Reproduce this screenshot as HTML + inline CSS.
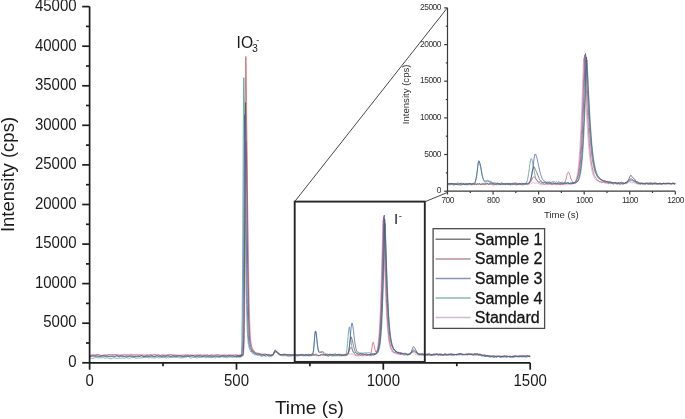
<!DOCTYPE html>
<html><head><meta charset="utf-8"><title>Chromatogram</title>
<style>
html,body{margin:0;padding:0;background:#fff;}
body{width:685px;height:419px;overflow:hidden;}
svg{display:block;}
text{font-family:"Liberation Sans",Arial,sans-serif;}
.ax{stroke:#1c1c1c;stroke-width:1.7;fill:none;}
.iax{stroke:#3a3a3a;stroke-width:1.2;fill:none;}
.ml{font-size:15px;fill:#1a1a1a;}
.il{font-size:8.4px;fill:#303030;letter-spacing:-0.5px;}
.lg{font-size:16px;fill:#141414;stroke:#141414;stroke-width:0.3px;}
.d{fill:none;stroke-width:0.9;stroke-linejoin:round;opacity:0.8;}
</style></head>
<body>
<svg width="685" height="419" viewBox="0 0 685 419">
<g>
<polyline class="d" stroke="#cc98d0" points="89.6,354.6 90.3,354.8 91.1,354.9 91.8,354.7 92.5,354.4 93.3,354.3 94.0,354.5 94.7,354.6 95.5,354.5 96.2,354.3 96.9,354.6 97.7,354.6 98.4,354.5 99.1,354.6 99.9,354.7 100.6,355.1 101.3,355.1 102.1,355.4 102.8,355.1 103.6,355.1 104.3,354.7 105.0,354.7 105.8,354.5 106.5,355.0 107.2,355.1 108.0,355.1 108.7,354.6 109.4,354.8 110.2,354.8 110.9,355.0 111.6,354.9 112.4,354.6 113.1,354.6 113.8,354.5 114.6,354.5 115.3,354.5 116.0,354.5 116.8,354.6 117.5,354.5 118.2,354.7 119.0,354.7 119.7,354.5 120.4,354.6 121.2,354.4 121.9,354.6 122.6,354.5 123.4,354.3 124.1,354.2 124.8,354.3 125.6,354.6 126.3,354.6 127.1,354.5 127.8,354.4 128.5,354.5 129.3,354.3 130.0,354.2 130.7,354.3 131.5,354.4 132.2,354.7 132.9,354.6 133.7,354.8 134.4,354.8 135.1,354.9 135.9,354.5 136.6,354.2 137.3,354.4 138.1,354.7 138.8,354.8 139.5,354.9 140.3,354.9 141.0,355.0 141.7,354.5 142.5,354.3 143.2,354.3 143.9,354.6 144.7,354.7 145.4,354.4 146.1,354.4 146.9,354.4 147.6,354.6 148.3,354.6 149.1,354.6 149.8,354.8 150.5,354.8 151.3,354.9 152.0,354.5 152.8,354.4 153.5,354.3 154.2,354.4 155.0,354.5 155.7,354.4 156.4,354.5 157.2,354.3 157.9,354.7 158.6,354.7 159.4,355.1 160.1,355.2 160.8,355.3 161.6,355.2 162.3,354.8 163.0,354.3 163.8,354.3 164.5,354.5 165.2,354.8 166.0,354.6 166.7,354.5 167.4,354.6 168.2,354.6 168.9,354.4 169.6,354.6 170.4,354.7 171.1,354.8 171.8,354.8 172.6,354.8 173.3,354.9 174.0,354.6 174.8,354.6 175.5,354.4 176.3,354.7 177.0,354.7 177.7,355.1 178.5,355.2 179.2,355.1 179.9,355.1 180.7,354.8 181.4,355.2 182.1,354.7 182.9,355.0 183.6,354.5 184.3,354.6 185.1,354.8 185.8,354.7 186.5,354.4 187.3,354.2 188.0,354.5 188.7,354.7 189.5,354.9 190.2,354.7 190.9,354.7 191.7,354.6 192.4,354.9 193.1,354.9 193.9,355.1 194.6,354.8 195.3,354.7 196.1,354.3 196.8,354.5 197.5,354.6 198.3,354.8 199.0,354.9 199.8,354.8 200.5,354.8 201.2,354.8 202.0,355.0 202.7,355.1 203.4,354.8 204.2,354.6 204.9,354.7 205.6,354.9 206.4,354.6 207.1,354.6 207.8,354.7 208.6,355.1 209.3,355.1 210.0,355.0 210.8,354.9 211.5,354.6 212.2,354.8 213.0,354.7 213.7,354.8 214.4,354.7 215.2,355.0 215.9,355.1 216.6,354.9 217.4,354.8 218.1,354.5 218.8,354.7 219.6,354.7 220.3,354.9 221.0,354.8 221.8,354.7 222.5,354.7 223.2,354.8 224.0,354.5 224.7,354.4 225.5,354.3 226.2,354.6 226.9,355.0 227.7,354.9 228.4,354.6 229.1,354.4 229.9,354.5 230.6,354.5 231.3,354.3 232.1,354.3 232.8,354.5 233.5,354.4 234.3,354.8 235.0,354.5 235.7,354.7 236.5,354.3 236.6,354.2 236.8,354.0 236.9,354.3 237.1,355.0 237.2,355.1 237.3,355.1 237.5,354.8 237.6,354.8 237.8,354.9 237.9,355.2 238.1,355.3 238.2,355.0 238.4,354.7 238.5,354.8 238.7,354.9 238.8,355.1 239.0,355.2 239.1,355.2 239.3,355.2 239.4,355.1 239.6,355.0 239.7,354.6 239.8,354.9 240.0,355.0 240.1,355.2 240.3,355.2 240.4,355.0 240.6,355.0 240.7,354.8 240.9,354.8 241.0,354.3 241.2,354.6 241.3,354.5 241.5,354.9 241.6,354.6 241.8,355.0 241.9,355.1 242.0,355.0 242.2,354.7 242.3,354.6 242.5,354.8 242.6,354.6 242.8,354.5 242.9,354.8 243.1,354.9 243.2,355.0 243.4,354.8 243.5,354.1 243.7,352.6 243.8,350.5 244.0,348.5 244.1,345.8 244.3,341.2 244.4,335.2 244.5,327.4 244.7,317.9 244.8,306.0 245.0,291.6 245.1,275.0 245.3,256.7 245.4,237.3 245.6,217.1 245.7,197.5 245.9,178.8 246.0,163.5 246.2,151.3 246.3,143.9 246.5,141.3 246.6,145.5 246.7,150.7 246.9,156.9 247.0,164.4 247.2,172.7 247.3,182.0 247.5,191.5 247.6,201.5 247.8,211.2 247.9,221.8 248.1,232.2 248.2,242.5 248.4,252.1 248.5,261.6 248.7,270.8 248.8,279.4 249.0,287.6 249.1,295.1 249.2,302.5 249.4,308.4 249.5,313.7 249.7,318.2 249.8,322.7 250.0,326.7 250.1,330.2 250.3,333.3 250.4,335.8 250.6,338.0 250.7,339.5 250.9,341.0 251.0,342.3 251.2,343.8 251.3,345.0 251.4,345.5 251.6,346.1 251.7,346.5 251.9,347.4 252.0,348.2 252.2,348.6 252.3,348.7 252.5,349.0 252.6,349.3 252.8,349.7 252.9,349.9 253.1,350.4 253.2,350.6 253.4,350.9 253.5,350.7 253.7,351.0 253.8,350.9 253.9,350.9 254.1,351.0 254.7,351.7 255.3,352.3 255.9,352.6 256.4,353.0 257.0,353.2 257.6,353.0 258.2,353.1 258.8,353.3 259.4,354.0 260.0,354.0 260.6,354.3 261.1,354.4 261.7,354.3 262.3,354.3 262.9,354.0 263.5,354.0 264.1,353.9 264.7,354.0 265.3,354.0 265.8,354.1 266.4,354.3 267.0,354.9 267.6,354.9 268.2,354.6 268.8,354.3 269.4,354.5 270.0,354.9 270.5,355.2 271.1,355.0 271.7,354.8 272.3,354.6 272.9,354.4 273.5,353.8 274.1,353.0 274.7,352.1 275.2,351.7 275.8,351.9 276.4,351.9 277.0,352.2 277.6,352.7 278.2,353.7 278.8,354.0 279.4,354.7 279.9,354.9 280.5,354.9 281.1,354.6 281.7,354.5 282.3,355.0 282.9,355.2 283.5,355.4 284.1,355.0 284.6,354.6 285.2,354.4 285.8,354.7 286.4,355.3 287.0,355.4 287.6,355.3 288.2,355.3 288.8,355.3 289.3,355.5 289.9,355.1 290.5,354.9 291.1,354.6 291.7,354.8 292.3,355.0 292.9,355.2 293.5,355.2 294.0,355.3 294.6,355.5 295.2,355.7 295.8,355.5 296.4,355.3 297.0,355.1 297.6,355.0 298.2,355.3 298.7,355.5 299.3,355.6 299.9,355.3 300.5,355.2 301.1,355.0 301.7,355.1 302.3,355.2 302.9,355.6 303.4,355.5 304.0,355.2 304.6,355.4 305.2,355.3 305.8,355.2 306.4,354.7 307.0,355.0 307.6,355.2 308.1,355.6 308.7,355.1 309.3,355.1 309.9,354.6 310.5,355.2 311.1,355.1 311.7,355.7 312.2,355.6 312.8,355.5 313.4,355.4 314.0,355.2 314.6,355.3 315.2,355.2 315.8,355.5 316.4,355.7 316.9,355.5 317.5,355.5 318.1,355.6 318.7,355.6 319.3,355.7 319.9,355.8 320.5,355.7 321.1,355.4 321.6,355.5 322.2,355.5 322.8,355.7 323.4,355.6 324.0,355.5 324.6,355.5 325.2,355.0 325.8,355.3 326.3,355.2 326.9,355.5 327.5,355.5 328.1,355.4 328.7,355.4 329.3,355.2 329.9,355.3 330.5,355.5 331.0,355.6 331.6,355.6 332.2,355.2 332.8,355.4 333.4,355.4 334.0,355.9 334.6,355.6 335.2,355.8 335.7,355.8 336.3,355.9 336.9,355.6 337.5,355.5 338.1,355.7 338.7,356.0 339.3,355.9 339.9,355.7 340.4,355.7 341.0,355.6 341.6,355.6 342.2,355.6 342.8,355.4 343.4,355.7 344.0,355.8 344.6,356.2 345.1,355.7 345.7,355.5 346.3,355.1 346.9,355.4 347.5,355.2 348.1,355.1 348.7,354.4 349.3,354.1 349.8,354.0 350.4,354.2 351.0,354.2 351.6,353.9 352.2,353.8 352.8,354.1 353.4,354.7 354.0,355.2 354.5,355.1 355.1,355.5 355.7,355.5 356.3,356.0 356.9,355.4 357.5,355.7 358.1,355.6 358.7,356.0 359.2,356.0 359.8,355.7 360.4,355.3 361.0,355.2 361.6,355.6 362.2,356.1 362.8,356.1 363.4,356.0 363.9,355.7 364.5,355.6 365.1,355.8 365.7,355.8 366.3,355.8 366.9,355.4 367.5,355.1 368.1,355.1 368.6,355.4 369.2,355.8 369.8,355.8 370.4,355.8 371.0,355.8 371.6,355.9 371.8,355.6 372.1,355.6 372.3,355.4 372.5,355.5 372.8,355.6 373.0,355.7 373.2,355.7 373.5,355.6 373.7,355.3 373.9,355.2 374.2,355.2 374.4,355.1 374.6,355.2 374.9,354.9 375.1,354.7 375.3,354.6 375.6,354.2 375.8,353.7 376.0,353.0 376.3,352.5 376.5,352.0 376.8,351.4 377.0,350.6 377.2,349.6 377.5,348.3 377.7,347.1 377.9,345.4 378.2,343.6 378.4,341.4 378.6,339.2 378.9,336.4 379.1,333.6 379.3,330.0 379.6,326.1 379.8,321.4 380.0,316.4 380.3,311.1 380.5,305.2 380.7,298.5 381.0,291.1 381.2,283.3 381.5,275.3 381.7,266.6 381.9,257.3 382.2,247.5 382.4,238.4 382.6,230.1 382.9,222.5 383.1,219.9 383.3,226.0 383.6,233.3 383.8,241.2 384.0,248.9 384.3,256.9 384.5,264.0 384.7,271.2 385.0,278.1 385.2,284.7 385.4,290.6 385.7,296.5 385.9,302.3 386.2,307.8 386.4,312.5 386.6,316.6 386.9,320.2 387.1,323.6 387.3,326.7 387.6,329.7 387.8,332.4 388.0,334.7 388.3,336.6 388.5,338.3 388.7,340.0 389.0,341.7 389.2,343.1 389.4,344.6 389.7,345.9 389.9,346.8 390.1,347.4 390.4,347.9 390.6,348.9 390.9,349.5 391.1,350.2 391.3,350.5 391.6,351.3 391.8,351.6 392.0,351.6 392.3,351.4 392.5,351.7 392.7,352.1 393.0,352.3 393.2,352.8 393.4,353.0 393.7,353.2 393.9,352.8 394.1,352.6 394.4,352.6 394.6,352.8 394.8,353.1 395.1,353.2 395.3,353.5 395.6,353.6 395.8,353.6 396.0,353.3 396.3,353.4 396.5,353.6 396.7,353.9 397.0,353.7 397.2,353.8 397.4,353.6 397.7,354.0 397.9,354.1 398.1,354.4 398.4,354.2 398.6,354.0 398.8,354.3 399.1,354.6 399.3,354.7 399.5,354.6 399.8,354.8 400.0,354.7 400.3,354.5 400.5,354.2 400.7,354.5 401.0,354.4 401.5,354.6 402.1,354.3 402.7,354.7 403.3,354.9 403.9,355.1 404.5,355.1 405.1,354.8 405.7,354.8 406.2,354.9 406.8,355.0 407.4,355.1 408.0,354.8 408.6,354.9 409.2,354.7 409.8,354.4 410.4,353.5 410.9,352.7 411.5,352.4 412.1,352.4 412.7,352.4 413.3,352.5 413.9,352.9 414.5,353.5 415.1,353.7 415.6,354.1 416.2,354.7 416.8,355.3 417.4,355.2 418.0,355.2 418.6,355.0 419.2,355.2 419.8,355.0 420.3,355.0 420.9,355.0 421.5,355.2 422.1,355.2 422.7,355.5 423.3,355.1 423.9,355.1 424.5,355.0 425.0,355.3 425.6,355.3 426.2,355.0 426.8,355.2 427.4,355.4 428.0,355.6 428.6,354.8 429.2,354.5 429.7,354.4 430.3,354.8 430.9,354.6 431.5,354.6 432.1,354.7 432.7,354.9 433.3,354.8 433.9,354.6 434.4,354.9 435.0,354.6 435.6,354.4 436.2,354.2 436.8,354.4 437.4,355.1 438.0,355.1 438.6,355.2 439.1,354.8 439.7,354.8 440.3,354.8 440.9,355.1 441.5,355.2 442.1,355.2 442.7,355.0 443.3,355.2 443.8,355.1 444.4,355.4 445.0,355.1 445.6,355.0 446.2,354.4 446.8,354.3 447.4,354.3 448.0,354.8 448.5,355.3 449.1,355.5 449.7,355.2 450.3,355.1 450.9,355.2 451.5,355.0 452.1,355.3 452.7,354.9 453.2,355.0 453.8,354.8 454.4,354.8 455.0,354.9 455.6,354.9 456.2,355.2 456.8,355.1 457.4,354.7 457.9,354.1 458.5,353.8 459.1,354.0 459.7,354.5 460.3,354.4 460.9,354.6 461.5,354.4 462.1,354.7 462.6,354.7 463.2,354.8 463.8,354.7 464.4,354.9 465.0,354.9 465.6,354.5 466.2,354.3 466.8,354.3 467.3,354.6 467.9,354.4 468.5,354.6 469.1,354.7 469.7,354.6 470.3,354.4 470.9,354.3 471.5,354.2 472.0,354.4 472.6,354.4 473.2,354.7 473.8,354.3 474.4,354.7 475.0,354.7 475.6,355.0 476.2,354.6 476.7,354.4 477.3,354.0 477.9,354.5 478.5,354.5 479.1,354.9 479.7,354.8 480.3,355.0 480.9,355.1 481.4,355.5 482.0,355.7 482.6,355.9 483.2,355.7 483.8,355.7 484.4,355.4 485.0,355.1 485.6,355.3 486.1,355.7 486.7,356.2 487.3,356.4 487.9,356.4 488.5,356.3 489.1,356.3 489.7,356.4 490.3,356.4 490.8,356.3 491.4,355.9 492.0,356.0 492.6,355.9 493.2,355.9 493.8,355.7 494.4,355.8 495.0,355.7 495.5,355.9 496.1,356.2 496.7,356.3 497.3,356.4 497.9,356.1 498.5,356.3 499.1,356.0 499.7,356.0 500.2,356.0 500.8,356.6 501.4,356.6 502.0,356.4 502.6,356.3 503.2,356.2 503.8,356.3 504.4,356.1 504.9,356.2 505.5,356.1 506.1,356.0 506.7,355.5 507.3,355.6 507.9,355.9 508.5,356.5 509.1,356.2 509.6,356.3 510.2,356.2 510.8,356.4 511.4,356.3 512.0,356.4 512.6,356.5 513.2,356.7 513.8,356.8 514.3,356.8 514.9,356.4 515.5,356.1 516.1,356.4 516.7,356.5 517.3,356.3 517.9,355.9 518.5,355.9 519.0,356.1 519.6,356.1 520.2,356.2 520.8,356.3 521.4,356.5 522.0,356.2 522.6,355.9 523.2,355.6 523.7,355.9 524.3,355.8 524.9,356.1 525.5,356.0 526.1,355.8 526.7,355.5 527.3,355.6 527.9,356.0 528.4,356.1 529.0,355.8 529.6,355.9 530.2,356.2"/>
<polyline class="d" stroke="#c4505c" points="89.6,355.5 90.3,355.5 91.1,355.4 91.8,355.2 92.5,355.0 93.3,355.1 94.0,355.3 94.7,355.4 95.5,355.3 96.2,355.0 96.9,354.6 97.7,354.4 98.4,354.6 99.1,355.1 99.9,355.4 100.6,355.5 101.3,355.7 102.1,355.6 102.8,355.5 103.6,355.2 104.3,355.2 105.0,355.2 105.8,355.5 106.5,355.2 107.2,355.1 108.0,354.5 108.7,354.7 109.4,354.5 110.2,354.9 110.9,354.9 111.6,354.7 112.4,354.8 113.1,354.8 113.8,354.9 114.6,354.7 115.3,354.7 116.0,354.8 116.8,355.0 117.5,355.1 118.2,355.4 119.0,355.4 119.7,355.6 120.4,355.5 121.2,355.3 121.9,355.2 122.6,355.4 123.4,355.1 124.1,354.9 124.8,354.6 125.6,355.0 126.3,355.2 127.1,355.2 127.8,355.1 128.5,355.4 129.3,355.3 130.0,354.9 130.7,354.9 131.5,354.9 132.2,355.3 132.9,355.0 133.7,355.0 134.4,355.2 135.1,355.2 135.9,355.2 136.6,355.0 137.3,355.1 138.1,355.3 138.8,355.4 139.5,355.0 140.3,355.2 141.0,355.0 141.7,355.5 142.5,355.2 143.2,355.4 143.9,355.6 144.7,355.7 145.4,355.9 146.1,355.5 146.9,355.3 147.6,355.3 148.3,355.4 149.1,355.4 149.8,355.2 150.5,354.7 151.3,354.9 152.0,355.1 152.8,355.4 153.5,355.2 154.2,354.9 155.0,354.9 155.7,355.1 156.4,355.3 157.2,355.4 157.9,355.1 158.6,355.0 159.4,355.1 160.1,355.6 160.8,355.4 161.6,355.1 162.3,355.1 163.0,355.3 163.8,355.4 164.5,355.7 165.2,355.8 166.0,355.7 166.7,355.5 167.4,355.2 168.2,355.1 168.9,354.9 169.6,355.0 170.4,354.8 171.1,354.8 171.8,354.9 172.6,355.1 173.3,355.2 174.0,355.2 174.8,355.4 175.5,355.5 176.3,355.7 177.0,355.7 177.7,355.7 178.5,355.5 179.2,355.7 179.9,355.7 180.7,355.7 181.4,355.4 182.1,355.5 182.9,355.4 183.6,355.6 184.3,355.4 185.1,355.3 185.8,355.2 186.5,355.3 187.3,355.3 188.0,355.3 188.7,355.2 189.5,355.4 190.2,355.1 190.9,355.5 191.7,355.7 192.4,356.0 193.1,355.8 193.9,355.8 194.6,355.8 195.3,355.6 196.1,355.6 196.8,355.4 197.5,355.4 198.3,355.4 199.0,355.4 199.8,355.1 200.5,355.0 201.2,355.1 202.0,355.4 202.7,355.6 203.4,355.4 204.2,355.3 204.9,355.3 205.6,355.4 206.4,355.3 207.1,355.3 207.8,355.2 208.6,355.6 209.3,355.6 210.0,355.7 210.8,355.2 211.5,355.1 212.2,355.1 213.0,355.6 213.7,355.6 214.4,355.3 215.2,355.2 215.9,354.8 216.6,354.9 217.4,354.7 218.1,355.0 218.8,354.9 219.6,355.4 220.3,355.5 221.0,355.6 221.8,355.4 222.5,355.8 223.2,355.6 224.0,355.6 224.7,355.3 225.5,355.5 226.2,355.5 226.9,355.4 227.7,355.5 228.4,355.7 229.1,355.7 229.9,355.4 230.6,355.3 231.3,355.5 232.1,355.7 232.8,355.6 233.5,355.3 234.3,355.3 235.0,355.1 235.7,355.1 236.5,355.0 236.6,355.2 236.8,355.6 236.9,355.8 237.1,356.1 237.2,355.9 237.3,355.7 237.5,355.6 237.6,355.5 237.8,355.8 237.9,355.6 238.1,355.9 238.2,355.6 238.4,355.8 238.5,355.7 238.7,355.9 238.8,356.0 239.0,355.8 239.1,355.4 239.3,355.2 239.4,355.3 239.6,355.6 239.7,355.8 239.8,355.6 240.0,355.8 240.1,355.4 240.3,355.6 240.4,355.4 240.6,355.5 240.7,355.3 240.9,355.1 241.0,354.9 241.2,355.1 241.3,355.0 241.5,354.9 241.6,355.0 241.8,354.9 241.9,355.1 242.0,355.1 242.2,355.5 242.3,355.5 242.5,355.4 242.6,355.4 242.8,355.1 242.9,354.9 243.1,354.2 243.2,353.9 243.4,352.7 243.5,350.6 243.7,347.1 243.8,342.2 244.0,335.7 244.1,325.5 244.3,312.3 244.4,294.5 244.5,273.4 244.7,247.6 244.8,218.6 245.0,186.6 245.1,154.6 245.3,123.7 245.4,96.0 245.6,74.5 245.7,60.8 245.9,56.5 246.0,63.0 246.2,71.1 246.3,81.1 246.5,93.0 246.6,106.9 246.7,121.7 246.9,137.0 247.0,152.7 247.2,169.2 247.3,186.0 247.5,202.3 247.6,218.4 247.8,233.3 247.9,247.0 248.1,259.7 248.2,270.8 248.4,281.6 248.5,291.0 248.7,299.6 248.8,306.5 249.0,312.6 249.1,318.3 249.2,323.1 249.4,326.8 249.5,329.9 249.7,332.8 249.8,335.2 250.0,337.0 250.1,338.7 250.3,340.3 250.4,341.6 250.6,342.3 250.7,343.1 250.9,343.6 251.0,344.2 251.2,345.1 251.3,345.7 251.4,346.2 251.6,346.3 251.7,346.6 251.9,347.2 252.0,347.8 252.2,348.2 252.3,348.6 252.5,349.1 252.6,349.4 252.8,349.6 252.9,349.5 253.1,350.2 253.2,350.5 253.4,350.9 253.5,350.9 253.7,350.8 253.8,351.1 253.9,351.1 254.1,351.6 254.7,351.9 255.3,352.4 255.9,352.6 256.4,353.0 257.0,353.1 257.6,353.4 258.2,353.3 258.8,353.8 259.4,353.5 260.0,353.8 260.6,353.8 261.1,354.3 261.7,354.1 262.3,354.5 262.9,354.5 263.5,354.4 264.1,354.3 264.7,354.3 265.3,354.3 265.8,354.3 266.4,354.5 267.0,354.8 267.6,355.2 268.2,354.9 268.8,354.8 269.4,354.7 270.0,355.1 270.5,355.3 271.1,355.2 271.7,355.2 272.3,355.1 272.9,355.1 273.5,354.2 274.1,353.3 274.7,351.9 275.2,351.4 275.8,351.8 276.4,352.0 277.0,352.6 277.6,353.0 278.2,353.8 278.8,354.4 279.4,354.6 279.9,354.8 280.5,354.8 281.1,354.8 281.7,354.6 282.3,354.4 282.9,354.7 283.5,355.1 284.1,355.2 284.6,355.2 285.2,354.8 285.8,355.0 286.4,354.9 287.0,355.0 287.6,354.8 288.2,355.0 288.8,355.1 289.3,355.2 289.9,355.2 290.5,355.1 291.1,355.3 291.7,355.0 292.3,355.2 292.9,355.0 293.5,355.3 294.0,355.3 294.6,355.1 295.2,355.2 295.8,355.3 296.4,355.8 297.0,355.8 297.6,355.2 298.2,355.1 298.7,354.9 299.3,355.4 299.9,355.4 300.5,355.4 301.1,354.9 301.7,355.1 302.3,355.1 302.9,355.4 303.4,355.4 304.0,355.5 304.6,355.6 305.2,355.9 305.8,355.8 306.4,355.6 307.0,355.3 307.6,355.6 308.1,355.5 308.7,355.3 309.3,354.9 309.9,354.9 310.5,355.1 311.1,355.1 311.7,355.4 312.2,355.3 312.8,355.5 313.4,355.4 314.0,355.2 314.6,355.2 315.2,355.2 315.8,355.5 316.4,355.4 316.9,355.5 317.5,355.6 318.1,355.6 318.7,355.6 319.3,355.5 319.9,355.6 320.5,355.2 321.1,354.9 321.6,354.7 322.2,355.1 322.8,354.9 323.4,355.0 324.0,355.0 324.6,355.3 325.2,355.3 325.8,355.0 326.3,355.1 326.9,354.8 327.5,355.2 328.1,355.1 328.7,355.6 329.3,355.1 329.9,355.3 330.5,355.1 331.0,355.3 331.6,355.0 332.2,355.2 332.8,355.4 333.4,355.9 334.0,355.6 334.6,355.6 335.2,355.4 335.7,355.6 336.3,355.6 336.9,355.7 337.5,355.5 338.1,355.1 338.7,355.3 339.3,355.5 339.9,355.8 340.4,355.4 341.0,355.5 341.6,355.5 342.2,355.7 342.8,355.4 343.4,355.4 344.0,355.2 344.6,355.3 345.1,355.4 345.7,355.6 346.3,355.5 346.9,355.3 347.5,354.8 348.1,354.1 348.7,352.6 349.3,350.9 349.8,349.1 350.4,347.7 351.0,347.3 351.6,348.0 352.2,349.5 352.8,351.1 353.4,352.2 354.0,353.3 354.5,354.0 355.1,354.7 355.7,355.0 356.3,355.0 356.9,355.1 357.5,355.0 358.1,355.1 358.7,354.9 359.2,355.0 359.8,355.1 360.4,355.4 361.0,355.0 361.6,355.0 362.2,355.0 362.8,355.3 363.4,355.3 363.9,355.1 364.5,354.8 365.1,354.6 365.7,354.8 366.3,355.2 366.9,355.6 367.5,355.5 368.1,355.4 368.6,354.8 369.2,354.7 369.8,355.0 370.4,355.0 371.0,353.3 371.6,350.1 371.8,348.5 372.1,346.9 372.3,345.0 372.5,343.6 372.8,342.7 373.0,342.2 373.2,342.3 373.5,342.6 373.7,343.7 373.9,344.7 374.2,345.6 374.4,346.9 374.6,348.0 374.9,349.1 375.1,349.9 375.3,350.7 375.6,351.7 375.8,351.9 376.0,352.0 376.3,351.8 376.5,352.2 376.8,352.3 377.0,351.8 377.2,350.6 377.5,349.7 377.7,348.7 377.9,348.1 378.2,346.9 378.4,345.7 378.6,343.8 378.9,342.1 379.1,339.7 379.3,337.0 379.6,334.0 379.8,331.1 380.0,327.5 380.3,323.1 380.5,318.6 380.7,313.2 381.0,307.2 381.2,300.5 381.5,293.2 381.7,285.6 381.9,277.5 382.2,269.1 382.4,260.2 382.6,250.8 382.9,241.3 383.1,232.0 383.3,223.5 383.6,216.7 383.8,219.4 384.0,226.1 384.3,233.9 384.5,241.9 384.7,249.8 385.0,257.7 385.2,265.2 385.4,272.9 385.7,279.9 385.9,287.1 386.2,293.1 386.4,298.7 386.6,303.5 386.9,308.5 387.1,313.1 387.3,317.5 387.6,321.3 387.8,324.9 388.0,327.9 388.3,330.8 388.5,333.1 388.7,335.4 389.0,337.2 389.2,339.2 389.4,341.1 389.7,342.1 389.9,343.4 390.1,344.1 390.4,345.3 390.6,346.0 390.9,347.3 391.1,347.9 391.3,348.2 391.6,348.7 391.8,349.5 392.0,350.0 392.3,350.2 392.5,350.2 392.7,350.8 393.0,351.0 393.2,351.8 393.4,351.6 393.7,352.0 393.9,352.3 394.1,352.9 394.4,352.9 394.6,352.4 394.8,352.5 395.1,352.6 395.3,352.9 395.6,352.7 395.8,352.8 396.0,352.8 396.3,353.1 396.5,353.2 396.7,353.4 397.0,353.6 397.2,353.7 397.4,353.6 397.7,353.9 397.9,353.6 398.1,353.7 398.4,353.5 398.6,353.9 398.8,354.1 399.1,354.0 399.3,353.8 399.5,353.8 399.8,353.7 400.0,354.0 400.3,354.0 400.5,354.5 400.7,354.3 401.0,354.3 401.5,354.2 402.1,354.2 402.7,354.1 403.3,354.6 403.9,354.8 404.5,355.2 405.1,354.6 405.7,354.2 406.2,354.1 406.8,354.3 407.4,354.8 408.0,354.7 408.6,354.5 409.2,354.2 409.8,354.3 410.4,353.8 410.9,353.7 411.5,352.9 412.1,352.2 412.7,351.3 413.3,351.2 413.9,351.5 414.5,351.9 415.1,352.2 415.6,352.4 416.2,353.1 416.8,353.5 417.4,354.0 418.0,354.0 418.6,354.3 419.2,354.3 419.8,354.4 420.3,354.4 420.9,354.6 421.5,354.4 422.1,354.9 422.7,354.7 423.3,355.1 423.9,354.8 424.5,355.2 425.0,355.5 425.6,355.5 426.2,355.5 426.8,355.0 427.4,355.2 428.0,354.9 428.6,354.9 429.2,354.7 429.7,355.1 430.3,355.2 430.9,355.4 431.5,355.4 432.1,355.2 432.7,355.1 433.3,355.2 433.9,355.2 434.4,355.4 435.0,355.1 435.6,354.7 436.2,354.5 436.8,354.5 437.4,355.1 438.0,355.5 438.6,355.7 439.1,355.3 439.7,355.2 440.3,354.9 440.9,355.1 441.5,355.0 442.1,354.7 442.7,354.7 443.3,354.8 443.8,355.2 444.4,354.9 445.0,355.0 445.6,355.0 446.2,355.4 446.8,355.4 447.4,355.2 448.0,354.5 448.5,354.4 449.1,354.3 449.7,354.7 450.3,354.7 450.9,354.9 451.5,354.9 452.1,354.9 452.7,354.5 453.2,354.7 453.8,354.5 454.4,354.8 455.0,354.6 455.6,354.6 456.2,354.5 456.8,354.4 457.4,354.3 457.9,354.3 458.5,354.7 459.1,354.5 459.7,354.2 460.3,353.7 460.9,353.7 461.5,354.3 462.1,354.5 462.6,354.8 463.2,354.7 463.8,354.5 464.4,354.5 465.0,354.4 465.6,354.8 466.2,354.7 466.8,354.7 467.3,354.4 467.9,354.5 468.5,354.2 469.1,354.3 469.7,354.3 470.3,354.8 470.9,354.4 471.5,353.8 472.0,353.6 472.6,353.9 473.2,354.3 473.8,354.2 474.4,354.2 475.0,353.9 475.6,353.8 476.2,353.6 476.7,353.7 477.3,353.8 477.9,353.7 478.5,354.1 479.1,354.1 479.7,354.5 480.3,354.6 480.9,354.9 481.4,354.9 482.0,355.1 482.6,355.5 483.2,355.7 483.8,355.4 484.4,354.9 485.0,354.7 485.6,354.8 486.1,355.4 486.7,355.6 487.3,355.8 487.9,356.0 488.5,356.3 489.1,356.4 489.7,356.3 490.3,356.3 490.8,356.2 491.4,356.2 492.0,355.9 492.6,355.9 493.2,355.9 493.8,356.1 494.4,356.1 495.0,356.2 495.5,356.3 496.1,356.1 496.7,355.9 497.3,355.6 497.9,356.0 498.5,356.2 499.1,356.5 499.7,356.2 500.2,356.2 500.8,356.2 501.4,356.1 502.0,356.0 502.6,356.1 503.2,356.0 503.8,355.9 504.4,355.8 504.9,355.9 505.5,356.2 506.1,355.9 506.7,356.0 507.3,356.1 507.9,356.3 508.5,356.4 509.1,356.2 509.6,356.1 510.2,356.0 510.8,356.1 511.4,356.8 512.0,356.8 512.6,357.0 513.2,356.3 513.8,356.2 514.3,355.8 514.9,355.9 515.5,356.1 516.1,356.2 516.7,356.2 517.3,356.3 517.9,356.4 518.5,356.1 519.0,356.0 519.6,355.7 520.2,356.0 520.8,355.9 521.4,356.1 522.0,356.0 522.6,355.9 523.2,355.8 523.7,356.0 524.3,356.3 524.9,356.0 525.5,356.0 526.1,355.9 526.7,355.9 527.3,355.7 527.9,355.5 528.4,355.9 529.0,355.6 529.6,355.7 530.2,355.5"/>
<polyline class="d" stroke="#3a9a84" points="89.6,358.1 90.3,357.9 91.1,358.3 91.8,358.3 92.5,358.6 93.3,358.2 94.0,358.2 94.7,357.9 95.5,357.6 96.2,357.6 96.9,357.5 97.7,357.8 98.4,357.9 99.1,357.8 99.9,357.7 100.6,357.9 101.3,357.8 102.1,357.9 102.8,357.5 103.6,357.6 104.3,357.9 105.0,358.3 105.8,358.1 106.5,357.8 107.2,357.8 108.0,358.1 108.7,358.2 109.4,358.3 110.2,358.7 110.9,358.9 111.6,358.6 112.4,358.2 113.1,357.9 113.8,357.9 114.6,357.8 115.3,358.1 116.0,358.2 116.8,358.5 117.5,358.3 118.2,358.3 119.0,358.2 119.7,358.0 120.4,358.2 121.2,358.3 121.9,357.9 122.6,357.8 123.4,358.0 124.1,358.3 124.8,358.0 125.6,357.6 126.3,357.9 127.1,357.8 127.8,358.0 128.5,358.0 129.3,358.3 130.0,358.2 130.7,357.8 131.5,357.6 132.2,357.6 132.9,357.6 133.7,357.6 134.4,357.5 135.1,357.9 135.9,358.2 136.6,358.2 137.3,358.2 138.1,357.9 138.8,358.1 139.5,357.9 140.3,358.0 141.0,357.7 141.7,358.0 142.5,357.8 143.2,357.7 143.9,357.2 144.7,357.4 145.4,357.6 146.1,357.3 146.9,357.5 147.6,357.6 148.3,358.0 149.1,357.7 149.8,357.6 150.5,357.5 151.3,357.7 152.0,357.7 152.8,357.9 153.5,357.9 154.2,358.0 155.0,357.9 155.7,357.9 156.4,357.6 157.2,357.6 157.9,357.7 158.6,357.8 159.4,357.9 160.1,357.5 160.8,357.7 161.6,357.5 162.3,357.6 163.0,357.7 163.8,357.7 164.5,357.4 165.2,357.7 166.0,357.7 166.7,357.9 167.4,357.7 168.2,358.0 168.9,357.7 169.6,357.5 170.4,357.0 171.1,357.2 171.8,357.1 172.6,357.4 173.3,357.4 174.0,357.2 174.8,357.2 175.5,357.3 176.3,357.5 177.0,357.3 177.7,357.2 178.5,357.4 179.2,357.7 179.9,357.8 180.7,357.7 181.4,357.7 182.1,357.9 182.9,357.8 183.6,357.7 184.3,357.3 185.1,357.3 185.8,357.0 186.5,357.2 187.3,356.6 188.0,356.8 188.7,356.7 189.5,357.3 190.2,358.0 190.9,358.1 191.7,358.0 192.4,357.2 193.1,357.4 193.9,357.1 194.6,357.4 195.3,357.1 196.1,357.8 196.8,357.8 197.5,357.9 198.3,357.4 199.0,357.4 199.8,357.5 200.5,357.5 201.2,357.4 202.0,357.1 202.7,357.0 203.4,357.0 204.2,357.1 204.9,357.5 205.6,357.9 206.4,357.7 207.1,357.3 207.8,357.0 208.6,357.3 209.3,357.5 210.0,357.5 210.8,357.4 211.5,357.6 212.2,357.2 213.0,357.1 213.7,357.1 214.4,357.7 215.2,357.8 215.9,357.6 216.6,357.2 217.4,357.1 218.1,357.3 218.8,357.4 219.6,357.6 220.3,357.4 221.0,357.2 221.8,356.6 222.5,357.0 223.2,357.1 224.0,357.3 224.7,357.2 225.5,357.4 226.2,357.8 226.9,357.7 227.7,357.4 228.4,357.2 229.1,357.1 229.9,357.0 230.6,356.9 231.3,357.1 232.1,357.3 232.8,357.2 233.5,357.1 234.3,357.0 235.0,357.0 235.7,357.2 236.5,357.5 236.6,357.7 236.8,357.5 236.9,357.2 237.1,356.8 237.2,356.9 237.3,356.8 237.5,356.8 237.6,356.7 237.8,356.9 237.9,357.2 238.1,357.3 238.2,357.4 238.4,357.3 238.5,357.1 238.7,357.0 238.8,356.8 239.0,357.0 239.1,356.9 239.3,357.3 239.4,357.4 239.6,357.3 239.7,357.2 239.8,356.8 240.0,356.8 240.1,356.7 240.3,357.0 240.4,357.3 240.6,357.3 240.7,357.3 240.9,356.7 241.0,356.3 241.2,355.1 241.3,354.0 241.5,351.9 241.6,349.1 241.8,344.7 241.9,338.1 242.0,328.8 242.2,316.5 242.3,300.4 242.5,280.1 242.6,256.2 242.8,229.2 242.9,200.3 243.1,170.5 243.2,141.4 243.4,115.7 243.5,95.4 243.7,82.5 243.8,77.7 244.0,83.9 244.1,91.9 244.3,101.8 244.4,112.7 244.5,125.3 244.7,139.1 244.8,153.4 245.0,168.5 245.1,183.7 245.3,199.1 245.4,214.1 245.6,228.6 245.7,242.6 245.9,255.4 246.0,267.3 246.2,278.3 246.3,288.6 246.5,297.6 246.6,305.5 246.7,312.0 246.9,317.8 247.0,322.9 247.2,327.2 247.3,330.7 247.5,333.3 247.6,336.0 247.8,338.1 247.9,340.0 248.1,341.5 248.2,343.2 248.4,344.2 248.5,344.7 248.7,345.1 248.8,345.8 249.0,346.8 249.1,347.7 249.2,348.4 249.4,348.6 249.5,349.2 249.7,349.5 249.8,349.7 250.0,349.7 250.1,350.0 250.3,350.6 250.4,351.1 250.6,351.5 250.7,351.4 250.9,351.2 251.0,351.4 251.2,351.6 251.3,352.0 251.4,351.8 251.6,352.1 251.7,352.3 251.9,352.6 252.0,353.0 252.2,353.2 252.3,353.7 252.5,353.6 252.6,353.6 252.8,353.5 252.9,353.7 253.1,353.5 253.2,353.7 253.4,353.9 253.5,354.0 253.7,353.7 253.8,353.6 253.9,354.2 254.1,354.6 254.7,354.9 255.3,354.8 255.9,354.6 256.4,355.1 257.0,355.1 257.6,355.6 258.2,355.3 258.8,355.5 259.4,355.3 260.0,355.7 260.6,356.0 261.1,356.4 261.7,356.4 262.3,356.4 262.9,356.1 263.5,355.8 264.1,355.6 264.7,356.0 265.3,356.3 265.8,356.4 266.4,356.0 267.0,356.0 267.6,355.8 268.2,356.1 268.8,356.5 269.4,356.7 270.0,356.9 270.5,356.5 271.1,356.3 271.7,356.2 272.3,356.2 272.9,355.5 273.5,354.6 274.1,353.4 274.7,352.4 275.2,351.8 275.8,352.0 276.4,352.4 277.0,352.5 277.6,353.3 278.2,353.9 278.8,354.7 279.4,354.8 279.9,355.2 280.5,355.5 281.1,355.5 281.7,355.6 282.3,355.7 282.9,355.9 283.5,355.8 284.1,355.9 284.6,355.7 285.2,355.7 285.8,355.7 286.4,355.9 287.0,356.1 287.6,356.2 288.2,356.4 288.8,356.2 289.3,356.2 289.9,356.2 290.5,356.2 291.1,355.9 291.7,356.0 292.3,355.8 292.9,355.9 293.5,355.6 294.0,355.7 294.6,355.6 295.2,355.7 295.8,355.5 296.4,355.7 297.0,355.6 297.6,355.9 298.2,355.9 298.7,355.9 299.3,355.9 299.9,355.3 300.5,355.5 301.1,355.5 301.7,355.8 302.3,355.7 302.9,355.9 303.4,355.9 304.0,355.9 304.6,355.6 305.2,355.5 305.8,355.3 306.4,355.3 307.0,355.5 307.6,355.8 308.1,355.9 308.7,355.9 309.3,355.8 309.9,355.8 310.5,355.9 311.1,355.6 311.7,355.2 312.2,354.9 312.8,354.3 313.4,352.0 314.0,346.0 314.6,337.8 315.2,331.4 315.8,331.4 316.4,335.1 316.9,340.6 317.5,345.8 318.1,349.9 318.7,351.8 319.3,352.7 319.9,352.4 320.5,352.3 321.1,352.0 321.6,352.4 322.2,352.5 322.8,353.2 323.4,353.6 324.0,354.2 324.6,354.5 325.2,355.2 325.8,355.4 326.3,356.0 326.9,355.5 327.5,355.9 328.1,355.9 328.7,356.4 329.3,355.8 329.9,355.8 330.5,355.5 331.0,355.9 331.6,356.0 332.2,356.1 332.8,355.8 333.4,355.6 334.0,355.3 334.6,355.5 335.2,355.5 335.7,355.7 336.3,355.6 336.9,355.2 337.5,355.1 338.1,355.1 338.7,355.6 339.3,355.8 339.9,355.5 340.4,355.6 341.0,355.6 341.6,355.9 342.2,355.8 342.8,355.3 343.4,355.6 344.0,355.5 344.6,355.6 345.1,355.2 345.7,354.8 346.3,353.2 346.9,349.3 347.5,343.6 348.1,336.5 348.7,330.1 349.3,326.9 349.8,329.4 350.4,334.9 351.0,340.7 351.6,345.6 352.2,348.5 352.8,350.9 353.4,351.9 354.0,352.7 354.5,352.8 355.1,352.6 355.7,353.0 356.3,353.5 356.9,353.4 357.5,353.1 358.1,353.2 358.7,353.5 359.2,353.4 359.8,353.1 360.4,353.2 361.0,353.2 361.6,353.2 362.2,353.0 362.8,353.1 363.4,353.1 363.9,353.1 364.5,352.8 365.1,352.7 365.7,352.7 366.3,352.9 366.9,352.9 367.5,352.8 368.1,352.8 368.6,352.7 369.2,352.7 369.8,352.9 370.4,353.3 371.0,353.5 371.6,353.5 371.8,353.5 372.1,353.9 372.3,354.3 372.5,354.3 372.8,353.9 373.0,353.5 373.2,353.8 373.5,353.8 373.7,354.1 373.9,353.8 374.2,353.9 374.4,354.0 374.6,354.2 374.9,354.6 375.1,354.6 375.3,354.8 375.6,354.3 375.8,354.1 376.0,353.6 376.3,353.5 376.5,353.6 376.8,353.5 377.0,353.5 377.2,353.1 377.5,352.9 377.7,352.7 377.9,352.4 378.2,352.1 378.4,351.4 378.6,350.7 378.9,349.7 379.1,348.9 379.3,348.1 379.6,347.7 379.8,346.3 380.0,344.8 380.3,343.0 380.5,340.8 380.7,338.3 381.0,335.3 381.2,332.4 381.5,329.2 381.7,325.0 381.9,320.8 382.2,315.7 382.4,310.1 382.6,303.8 382.9,297.0 383.1,290.2 383.3,282.7 383.6,274.6 383.8,265.8 384.0,256.8 384.3,247.7 384.5,238.6 384.7,229.9 385.0,223.3 385.2,223.9 385.4,230.6 385.7,237.2 385.9,244.2 386.2,251.2 386.4,258.9 386.6,266.3 386.9,273.3 387.1,279.6 387.3,285.7 387.6,291.5 387.8,296.9 388.0,301.7 388.3,306.6 388.5,311.4 388.7,315.4 389.0,318.8 389.2,321.8 389.4,324.9 389.7,327.8 389.9,330.1 390.1,332.3 390.4,334.2 390.6,336.3 390.9,338.1 391.1,339.6 391.3,340.9 391.6,342.3 391.8,343.4 392.0,344.1 392.3,344.7 392.5,345.2 392.7,346.1 393.0,346.9 393.2,347.9 393.4,348.5 393.7,348.7 393.9,348.9 394.1,349.0 394.4,349.5 394.6,349.9 394.8,350.3 395.1,350.7 395.3,350.8 395.6,351.0 395.8,351.1 396.0,351.4 396.3,351.8 396.5,352.1 396.7,352.4 397.0,352.2 397.2,352.7 397.4,352.7 397.7,352.6 397.9,352.4 398.1,352.6 398.4,353.1 398.6,353.0 398.8,352.9 399.1,352.8 399.3,353.1 399.5,353.2 399.8,352.9 400.0,352.9 400.3,353.0 400.5,353.7 400.7,353.7 401.0,353.6 401.5,353.5 402.1,353.6 402.7,354.0 403.3,354.2 403.9,354.3 404.5,354.2 405.1,354.6 405.7,354.7 406.2,354.8 406.8,354.6 407.4,354.8 408.0,354.7 408.6,354.6 409.2,354.5 409.8,354.4 410.4,354.3 410.9,353.4 411.5,353.0 412.1,352.1 412.7,351.9 413.3,351.1 413.9,350.9 414.5,351.0 415.1,351.3 415.6,352.2 416.2,352.4 416.8,352.8 417.4,352.9 418.0,353.9 418.6,354.5 419.2,354.7 419.8,354.6 420.3,354.5 420.9,354.7 421.5,354.9 422.1,354.7 422.7,354.8 423.3,354.5 423.9,354.7 424.5,354.6 425.0,354.8 425.6,354.5 426.2,354.4 426.8,354.1 427.4,354.2 428.0,354.3 428.6,354.9 429.2,354.8 429.7,355.0 430.3,354.5 430.9,354.7 431.5,354.9 432.1,355.0 432.7,354.8 433.3,354.3 433.9,354.3 434.4,354.6 435.0,354.6 435.6,354.6 436.2,354.1 436.8,354.3 437.4,354.3 438.0,354.5 438.6,354.2 439.1,354.3 439.7,354.2 440.3,354.5 440.9,354.0 441.5,354.3 442.1,354.6 442.7,354.7 443.3,354.5 443.8,353.9 444.4,353.7 445.0,353.7 445.6,354.1 446.2,354.5 446.8,354.7 447.4,354.8 448.0,354.8 448.5,355.2 449.1,355.0 449.7,355.0 450.3,354.1 450.9,354.0 451.5,354.1 452.1,354.5 452.7,354.8 453.2,354.8 453.8,355.3 454.4,354.8 455.0,354.6 455.6,354.5 456.2,354.8 456.8,354.7 457.4,354.4 457.9,354.4 458.5,354.7 459.1,354.9 459.7,354.9 460.3,354.6 460.9,354.7 461.5,354.9 462.1,354.9 462.6,354.9 463.2,354.5 463.8,354.7 464.4,354.4 465.0,354.3 465.6,354.2 466.2,354.2 466.8,354.7 467.3,354.9 467.9,354.9 468.5,354.5 469.1,354.2 469.7,353.9 470.3,354.1 470.9,354.3 471.5,354.6 472.0,354.6 472.6,354.7 473.2,355.0 473.8,354.9 474.4,355.0 475.0,354.8 475.6,355.2 476.2,354.8 476.7,355.1 477.3,354.7 477.9,355.3 478.5,355.3 479.1,355.3 479.7,355.3 480.3,355.3 480.9,355.7 481.4,356.0 482.0,356.1 482.6,356.0 483.2,355.9 483.8,355.9 484.4,356.3 485.0,356.3 485.6,356.5 486.1,356.6 486.7,356.1 487.3,356.5 487.9,356.3 488.5,356.7 489.1,356.8 489.7,357.3 490.3,357.3 490.8,357.1 491.4,356.7 492.0,356.6 492.6,356.6 493.2,356.8 493.8,357.5 494.4,357.4 495.0,357.4 495.5,356.9 496.1,356.8 496.7,356.9 497.3,356.7 497.9,356.5 498.5,356.2 499.1,356.7 499.7,356.9 500.2,357.2 500.8,357.0 501.4,357.1 502.0,357.0 502.6,356.9 503.2,356.6 503.8,356.8 504.4,356.6 504.9,356.6 505.5,357.0 506.1,357.3 506.7,357.4 507.3,356.7 507.9,356.7 508.5,356.7 509.1,357.0 509.6,356.8 510.2,356.9 510.8,356.9 511.4,357.1 512.0,356.9 512.6,356.9 513.2,357.1 513.8,357.1 514.3,357.1 514.9,356.7 515.5,356.8 516.1,356.5 516.7,356.3 517.3,356.5 517.9,356.7 518.5,357.1 519.0,356.7 519.6,356.6 520.2,356.2 520.8,356.5 521.4,357.0 522.0,356.9 522.6,356.9 523.2,356.5 523.7,356.7 524.3,356.6 524.9,356.6 525.5,356.9 526.1,356.8 526.7,357.0 527.3,356.8 527.9,356.7 528.4,356.4 529.0,356.4 529.6,357.0 530.2,357.1"/>
<polyline class="d" stroke="#505050" points="89.6,356.6 90.3,356.2 91.1,356.1 91.8,356.2 92.5,356.0 93.3,355.8 94.0,355.8 94.7,356.3 95.5,356.2 96.2,356.2 96.9,355.9 97.7,355.9 98.4,356.0 99.1,356.1 99.9,356.5 100.6,356.3 101.3,356.2 102.1,355.9 102.8,355.8 103.6,355.9 104.3,356.0 105.0,356.2 105.8,356.2 106.5,356.1 107.2,356.1 108.0,356.2 108.7,356.5 109.4,356.6 110.2,356.9 110.9,356.7 111.6,356.6 112.4,356.4 113.1,356.6 113.8,356.7 114.6,356.7 115.3,356.7 116.0,356.1 116.8,355.8 117.5,355.7 118.2,356.3 119.0,356.5 119.7,356.8 120.4,356.4 121.2,356.4 121.9,356.2 122.6,356.4 123.4,356.4 124.1,356.7 124.8,356.6 125.6,356.7 126.3,356.7 127.1,356.8 127.8,356.7 128.5,356.4 129.3,356.2 130.0,356.1 130.7,356.1 131.5,356.2 132.2,356.1 132.9,356.5 133.7,356.4 134.4,356.7 135.1,356.6 135.9,356.7 136.6,356.6 137.3,356.3 138.1,356.1 138.8,356.4 139.5,356.5 140.3,356.4 141.0,355.8 141.7,355.6 142.5,355.9 143.2,356.3 143.9,356.7 144.7,356.6 145.4,356.2 146.1,356.1 146.9,356.3 147.6,356.4 148.3,356.6 149.1,356.6 149.8,356.4 150.5,355.7 151.3,355.7 152.0,355.6 152.8,356.1 153.5,356.2 154.2,356.9 155.0,356.7 155.7,356.6 156.4,355.8 157.2,355.9 157.9,355.8 158.6,356.5 159.4,356.3 160.1,356.4 160.8,356.1 161.6,356.8 162.3,356.5 163.0,356.3 163.8,356.1 164.5,356.2 165.2,356.3 166.0,356.0 166.7,356.0 167.4,355.8 168.2,356.0 168.9,356.1 169.6,356.5 170.4,356.9 171.1,356.9 171.8,356.7 172.6,356.2 173.3,356.2 174.0,356.3 174.8,356.7 175.5,356.6 176.3,356.6 177.0,356.1 177.7,356.2 178.5,356.1 179.2,355.9 179.9,355.9 180.7,355.9 181.4,356.5 182.1,356.8 182.9,356.8 183.6,356.5 184.3,356.1 185.1,356.3 185.8,356.4 186.5,356.3 187.3,355.9 188.0,355.9 188.7,356.3 189.5,356.4 190.2,356.2 190.9,355.8 191.7,356.0 192.4,355.7 193.1,355.8 193.9,355.8 194.6,356.5 195.3,356.6 196.1,356.8 196.8,356.5 197.5,356.3 198.3,356.4 199.0,356.0 199.8,356.3 200.5,356.2 201.2,356.5 202.0,356.5 202.7,356.4 203.4,356.3 204.2,356.1 204.9,355.9 205.6,356.0 206.4,355.9 207.1,356.4 207.8,356.7 208.6,356.8 209.3,356.7 210.0,356.5 210.8,356.3 211.5,356.6 212.2,356.7 213.0,357.2 213.7,356.5 214.4,356.4 215.2,356.2 215.9,356.6 216.6,356.4 217.4,356.4 218.1,356.1 218.8,356.6 219.6,356.4 220.3,356.3 221.0,355.9 221.8,355.9 222.5,356.0 223.2,356.1 224.0,356.2 224.7,356.1 225.5,356.1 226.2,356.2 226.9,356.4 227.7,356.2 228.4,356.1 229.1,356.0 229.9,355.8 230.6,356.2 231.3,356.2 232.1,356.3 232.8,356.1 233.5,356.3 234.3,356.4 235.0,356.2 235.7,356.1 236.5,356.2 236.6,356.5 236.8,356.5 236.9,356.7 237.1,356.6 237.2,356.5 237.3,356.6 237.5,356.7 237.6,356.5 237.8,356.4 237.9,356.1 238.1,356.2 238.2,356.4 238.4,356.7 238.5,356.7 238.7,356.2 238.8,355.8 239.0,355.9 239.1,356.0 239.3,356.3 239.4,356.1 239.6,356.3 239.7,355.9 239.8,356.0 240.0,356.0 240.1,356.1 240.3,356.3 240.4,356.3 240.6,356.2 240.7,355.3 240.9,355.1 241.0,355.3 241.2,356.2 241.3,356.1 241.5,356.4 241.6,356.4 241.8,356.5 241.9,356.4 242.0,356.0 242.2,355.8 242.3,355.7 242.5,355.9 242.6,356.1 242.8,355.9 242.9,355.1 243.1,353.6 243.2,351.6 243.4,348.9 243.5,345.0 243.7,339.0 243.8,330.9 244.0,319.5 244.1,304.6 244.3,286.0 244.4,264.4 244.5,240.0 244.7,213.3 244.8,185.5 245.0,159.5 245.1,136.6 245.3,118.7 245.4,106.6 245.6,102.6 245.7,108.1 245.9,115.5 246.0,123.6 246.2,133.8 246.3,145.1 246.5,158.0 246.6,171.1 246.7,184.7 246.9,198.7 247.0,212.8 247.2,226.8 247.3,240.0 247.5,252.8 247.6,264.6 247.8,275.4 247.9,285.3 248.1,294.0 248.2,301.7 248.4,308.6 248.5,315.0 248.7,320.3 248.8,325.1 249.0,329.1 249.1,332.4 249.2,334.7 249.4,336.5 249.5,338.6 249.7,340.5 249.8,342.2 250.0,343.2 250.1,344.1 250.3,344.9 250.4,346.0 250.6,346.7 250.7,347.0 250.9,347.2 251.0,347.7 251.2,348.4 251.3,349.0 251.4,349.0 251.6,349.4 251.7,349.6 251.9,350.3 252.0,350.6 252.2,350.8 252.3,350.5 252.5,350.7 252.6,351.1 252.8,351.3 252.9,351.4 253.1,351.5 253.2,351.7 253.4,351.8 253.5,351.6 253.7,351.7 253.8,352.0 253.9,352.3 254.1,352.6 254.7,353.1 255.3,353.6 255.9,353.7 256.4,354.0 257.0,353.9 257.6,354.2 258.2,354.1 258.8,354.3 259.4,354.3 260.0,354.2 260.6,354.4 261.1,354.6 261.7,355.0 262.3,354.6 262.9,354.5 263.5,354.6 264.1,355.1 264.7,355.4 265.3,355.2 265.8,355.2 266.4,354.7 267.0,355.0 267.6,354.9 268.2,355.2 268.8,355.1 269.4,355.3 270.0,355.4 270.5,355.3 271.1,355.1 271.7,355.3 272.3,354.9 272.9,354.7 273.5,353.3 274.1,352.1 274.7,350.5 275.2,350.1 275.8,350.3 276.4,351.0 277.0,351.8 277.6,352.4 278.2,352.9 278.8,352.9 279.4,353.7 279.9,354.2 280.5,354.6 281.1,354.7 281.7,354.8 282.3,354.7 282.9,354.3 283.5,354.4 284.1,354.6 284.6,354.6 285.2,354.3 285.8,354.5 286.4,354.7 287.0,355.0 287.6,355.2 288.2,355.1 288.8,354.9 289.3,354.5 289.9,354.7 290.5,355.1 291.1,355.5 291.7,355.4 292.3,354.9 292.9,354.8 293.5,355.0 294.0,354.8 294.6,354.9 295.2,354.6 295.8,354.9 296.4,355.0 297.0,354.9 297.6,355.3 298.2,355.2 298.7,355.4 299.3,355.0 299.9,354.7 300.5,354.8 301.1,354.8 301.7,354.6 302.3,354.6 302.9,354.6 303.4,355.1 304.0,355.2 304.6,355.1 305.2,354.8 305.8,354.6 306.4,354.9 307.0,354.8 307.6,355.1 308.1,355.1 308.7,355.2 309.3,355.1 309.9,355.0 310.5,355.1 311.1,355.0 311.7,354.8 312.2,354.5 312.8,354.2 313.4,354.5 314.0,354.4 314.6,354.5 315.2,354.3 315.8,354.1 316.4,354.2 316.9,354.4 317.5,354.8 318.1,355.4 318.7,355.6 319.3,355.6 319.9,354.9 320.5,354.8 321.1,354.6 321.6,354.5 322.2,354.4 322.8,354.4 323.4,354.3 324.0,354.1 324.6,354.5 325.2,354.6 325.8,354.7 326.3,354.6 326.9,354.8 327.5,354.9 328.1,354.6 328.7,354.5 329.3,354.2 329.9,354.3 330.5,354.6 331.0,354.8 331.6,354.7 332.2,354.7 332.8,354.1 333.4,354.3 334.0,354.4 334.6,354.7 335.2,354.5 335.7,354.4 336.3,354.6 336.9,354.7 337.5,354.5 338.1,354.3 338.7,354.5 339.3,354.5 339.9,354.5 340.4,354.3 341.0,354.9 341.6,355.2 342.2,355.5 342.8,355.0 343.4,354.8 344.0,354.5 344.6,354.4 345.1,354.4 345.7,354.6 346.3,354.3 346.9,354.3 347.5,353.9 348.1,352.9 348.7,350.6 349.3,347.3 349.8,342.9 350.4,338.9 351.0,336.8 351.6,337.9 352.2,339.9 352.8,342.5 353.4,345.2 354.0,347.7 354.5,349.7 355.1,351.3 355.7,352.3 356.3,353.1 356.9,353.6 357.5,353.9 358.1,354.2 358.7,354.5 359.2,354.3 359.8,354.3 360.4,354.1 361.0,354.4 361.6,354.4 362.2,354.4 362.8,354.4 363.4,354.6 363.9,354.4 364.5,354.6 365.1,354.3 365.7,354.8 366.3,354.8 366.9,354.9 367.5,354.6 368.1,354.5 368.6,354.6 369.2,354.8 369.8,354.6 370.4,355.1 371.0,355.0 371.6,355.1 371.8,354.6 372.1,354.4 372.3,354.4 372.5,354.2 372.8,354.5 373.0,354.7 373.2,355.3 373.5,355.0 373.7,354.6 373.9,354.3 374.2,354.6 374.4,354.8 374.6,354.4 374.9,354.2 375.1,353.7 375.3,353.9 375.6,354.2 375.8,354.3 376.0,354.2 376.3,353.7 376.5,353.4 376.8,353.2 377.0,352.7 377.2,352.7 377.5,352.4 377.7,352.1 377.9,351.8 378.2,350.9 378.4,350.1 378.6,349.2 378.9,348.4 379.1,347.4 379.3,346.3 379.6,344.8 379.8,343.3 380.0,341.2 380.3,339.3 380.5,336.8 380.7,333.9 381.0,330.7 381.2,327.1 381.5,323.1 381.7,318.2 381.9,313.1 382.2,307.2 382.4,300.8 382.6,293.7 382.9,286.6 383.1,278.9 383.3,270.2 383.6,261.1 383.8,251.8 384.0,242.6 384.3,233.4 384.5,225.4 384.7,219.2 385.0,222.4 385.2,229.0 385.4,236.2 385.7,243.7 385.9,251.4 386.2,259.0 386.4,266.3 386.6,273.5 386.9,280.2 387.1,286.7 387.3,292.3 387.6,297.7 387.8,302.7 388.0,307.5 388.3,311.6 388.5,315.5 388.7,319.3 389.0,322.7 389.2,325.9 389.4,328.1 389.7,330.6 389.9,332.7 390.1,335.0 390.4,336.8 390.6,338.3 390.9,339.5 391.1,340.8 391.3,341.8 391.6,342.9 391.8,344.1 392.0,344.8 392.3,345.6 392.5,346.0 392.7,347.0 393.0,347.5 393.2,348.1 393.4,348.5 393.7,348.7 393.9,349.0 394.1,349.3 394.4,349.9 394.6,350.2 394.8,350.2 395.1,350.3 395.3,350.5 395.6,350.6 395.8,351.1 396.0,351.6 396.3,352.1 396.5,352.0 396.7,351.8 397.0,351.7 397.2,352.0 397.4,352.4 397.7,352.4 397.9,352.4 398.1,352.4 398.4,352.7 398.6,352.9 398.8,352.9 399.1,352.9 399.3,352.6 399.5,352.9 399.8,353.2 400.0,353.4 400.3,353.3 400.5,353.2 400.7,353.1 401.0,352.9 401.5,352.8 402.1,353.0 402.7,353.5 403.3,353.5 403.9,353.5 404.5,353.3 405.1,353.3 405.7,353.4 406.2,353.8 406.8,354.1 407.4,354.2 408.0,354.3 408.6,354.4 409.2,354.1 409.8,353.8 410.4,353.4 410.9,352.8 411.5,351.6 412.1,349.5 412.7,348.0 413.3,346.7 413.9,347.0 414.5,347.6 415.1,348.5 415.6,349.6 416.2,350.7 416.8,351.9 417.4,353.1 418.0,353.4 418.6,353.8 419.2,353.8 419.8,353.8 420.3,353.8 420.9,353.7 421.5,353.9 422.1,354.2 422.7,354.4 423.3,354.4 423.9,354.5 424.5,354.3 425.0,354.4 425.6,354.1 426.2,354.5 426.8,354.5 427.4,354.5 428.0,354.4 428.6,354.4 429.2,354.8 429.7,354.6 430.3,354.8 430.9,354.8 431.5,355.2 432.1,355.1 432.7,354.7 433.3,354.7 433.9,354.5 434.4,354.7 435.0,354.2 435.6,354.2 436.2,353.7 436.8,354.2 437.4,354.2 438.0,354.7 438.6,354.4 439.1,354.4 439.7,354.5 440.3,354.8 440.9,355.1 441.5,355.1 442.1,355.1 442.7,355.0 443.3,355.0 443.8,354.9 444.4,354.6 445.0,354.6 445.6,354.7 446.2,354.8 446.8,354.6 447.4,354.6 448.0,354.4 448.5,354.2 449.1,354.0 449.7,354.2 450.3,354.0 450.9,353.8 451.5,353.8 452.1,354.2 452.7,354.2 453.2,354.3 453.8,354.2 454.4,354.4 455.0,354.4 455.6,354.5 456.2,354.8 456.8,354.7 457.4,355.0 457.9,354.3 458.5,354.0 459.1,353.4 459.7,353.8 460.3,353.8 460.9,353.8 461.5,353.7 462.1,353.7 462.6,354.1 463.2,354.2 463.8,354.4 464.4,354.5 465.0,354.7 465.6,354.5 466.2,354.2 466.8,354.2 467.3,354.0 467.9,353.9 468.5,353.7 469.1,354.1 469.7,354.3 470.3,354.1 470.9,354.1 471.5,354.2 472.0,354.3 472.6,354.6 473.2,354.4 473.8,354.3 474.4,353.8 475.0,353.7 475.6,353.8 476.2,353.8 476.7,353.9 477.3,354.1 477.9,354.4 478.5,354.5 479.1,354.3 479.7,354.1 480.3,354.1 480.9,354.5 481.4,355.1 482.0,355.3 482.6,355.0 483.2,354.9 483.8,355.0 484.4,355.5 485.0,355.5 485.6,355.6 486.1,355.6 486.7,355.8 487.3,355.7 487.9,355.8 488.5,355.6 489.1,355.8 489.7,355.8 490.3,355.9 490.8,356.2 491.4,356.3 492.0,356.5 492.6,356.7 493.2,356.4 493.8,356.4 494.4,356.1 495.0,356.1 495.5,356.6 496.1,356.6 496.7,357.1 497.3,356.5 497.9,356.7 498.5,356.4 499.1,356.2 499.7,356.4 500.2,356.3 500.8,356.6 501.4,356.6 502.0,356.5 502.6,356.5 503.2,356.3 503.8,356.5 504.4,356.0 504.9,355.9 505.5,356.1 506.1,356.8 506.7,356.8 507.3,356.6 507.9,356.5 508.5,356.6 509.1,356.4 509.6,356.5 510.2,356.5 510.8,356.8 511.4,356.7 512.0,356.4 512.6,356.1 513.2,356.1 513.8,356.3 514.3,356.3 514.9,355.9 515.5,356.0 516.1,356.0 516.7,356.2 517.3,356.3 517.9,356.3 518.5,356.4 519.0,356.3 519.6,356.3 520.2,356.1 520.8,355.8 521.4,356.0 522.0,356.1 522.6,355.9 523.2,356.1 523.7,356.1 524.3,356.3 524.9,356.1 525.5,356.0 526.1,356.1 526.7,356.0 527.3,355.9 527.9,356.0 528.4,356.1 529.0,356.3 529.6,356.4 530.2,356.4"/>
<polyline class="d" stroke="#4a56a8" points="89.6,356.3 90.3,356.6 91.1,356.4 91.8,356.3 92.5,356.0 93.3,356.2 94.0,356.3 94.7,356.0 95.5,355.9 96.2,355.9 96.9,356.3 97.7,356.6 98.4,356.7 99.1,356.6 99.9,356.4 100.6,356.3 101.3,356.2 102.1,356.1 102.8,356.0 103.6,356.0 104.3,356.1 105.0,356.1 105.8,356.2 106.5,356.5 107.2,356.3 108.0,356.6 108.7,356.1 109.4,356.3 110.2,355.9 110.9,356.1 111.6,356.2 112.4,356.2 113.1,356.2 113.8,356.0 114.6,356.2 115.3,356.0 116.0,355.9 116.8,355.9 117.5,356.3 118.2,356.5 119.0,356.6 119.7,356.0 120.4,355.8 121.2,355.9 121.9,356.0 122.6,356.1 123.4,356.0 124.1,356.2 124.8,356.5 125.6,356.3 126.3,356.2 127.1,356.0 127.8,356.4 128.5,356.4 129.3,356.1 130.0,356.0 130.7,356.3 131.5,356.4 132.2,356.6 132.9,356.8 133.7,356.9 134.4,356.8 135.1,356.4 135.9,356.5 136.6,356.3 137.3,356.3 138.1,356.3 138.8,356.4 139.5,356.3 140.3,356.0 141.0,355.8 141.7,355.8 142.5,356.5 143.2,356.8 143.9,357.0 144.7,356.4 145.4,356.5 146.1,356.2 146.9,356.2 147.6,356.0 148.3,356.2 149.1,356.3 149.8,356.3 150.5,356.3 151.3,356.3 152.0,356.4 152.8,356.6 153.5,356.5 154.2,356.5 155.0,356.2 155.7,356.3 156.4,355.8 157.2,355.9 157.9,355.9 158.6,356.2 159.4,356.1 160.1,356.0 160.8,356.2 161.6,356.4 162.3,356.0 163.0,356.1 163.8,356.0 164.5,356.3 165.2,356.1 166.0,356.2 166.7,356.3 167.4,356.1 168.2,355.9 168.9,356.0 169.6,355.9 170.4,356.3 171.1,356.0 171.8,356.2 172.6,355.8 173.3,355.8 174.0,355.7 174.8,355.9 175.5,355.8 176.3,355.9 177.0,355.5 177.7,355.8 178.5,355.7 179.2,356.0 179.9,355.8 180.7,356.1 181.4,356.1 182.1,356.4 182.9,356.5 183.6,356.5 184.3,356.5 185.1,356.0 185.8,356.2 186.5,355.9 187.3,356.1 188.0,356.0 188.7,356.1 189.5,356.1 190.2,356.2 190.9,356.0 191.7,355.8 192.4,355.5 193.1,355.6 193.9,355.9 194.6,356.4 195.3,356.3 196.1,356.1 196.8,355.9 197.5,355.9 198.3,355.8 199.0,355.7 199.8,355.7 200.5,355.8 201.2,356.2 202.0,356.4 202.7,356.5 203.4,356.1 204.2,356.2 204.9,356.2 205.6,356.5 206.4,356.3 207.1,356.2 207.8,355.9 208.6,355.8 209.3,355.7 210.0,355.9 210.8,356.0 211.5,356.0 212.2,355.8 213.0,356.2 213.7,356.3 214.4,356.5 215.2,355.8 215.9,356.0 216.6,356.0 217.4,356.0 218.1,355.9 218.8,356.3 219.6,356.5 220.3,356.7 221.0,356.2 221.8,356.3 222.5,355.8 223.2,355.9 224.0,355.9 224.7,356.3 225.5,356.5 226.2,356.3 226.9,355.9 227.7,355.8 228.4,355.7 229.1,356.1 229.9,356.0 230.6,355.8 231.3,355.8 232.1,355.7 232.8,355.9 233.5,355.9 234.3,356.4 235.0,356.8 235.7,356.3 236.5,356.1 236.6,356.0 236.8,356.0 236.9,355.9 237.1,355.8 237.2,356.0 237.3,355.8 237.5,356.0 237.6,355.7 237.8,355.9 237.9,355.9 238.1,356.1 238.2,355.9 238.4,356.1 238.5,356.2 238.7,356.5 238.8,356.3 239.0,356.2 239.1,356.1 239.3,355.9 239.4,356.1 239.6,355.6 239.7,355.7 239.8,355.8 240.0,356.3 240.1,356.5 240.3,356.3 240.4,356.1 240.6,355.7 240.7,355.7 240.9,355.7 241.0,355.8 241.2,355.8 241.3,355.8 241.5,355.6 241.6,355.4 241.8,355.3 241.9,355.4 242.0,355.0 242.2,353.9 242.3,352.3 242.5,349.7 242.6,345.7 242.8,339.7 242.9,331.8 243.1,320.8 243.2,306.5 243.4,289.0 243.5,268.4 243.7,244.9 243.8,219.6 244.0,193.3 244.1,168.7 244.3,146.4 244.4,129.7 244.5,118.4 244.7,114.8 244.8,119.9 245.0,126.5 245.1,134.5 245.3,144.2 245.4,155.0 245.6,167.0 245.7,179.4 245.9,192.7 246.0,205.8 246.2,219.3 246.3,232.2 246.5,244.9 246.6,257.0 246.7,268.3 246.9,278.6 247.0,288.0 247.2,296.6 247.3,304.4 247.5,311.2 247.6,316.8 247.8,321.7 247.9,325.9 248.1,329.7 248.2,332.8 248.4,335.7 248.5,338.3 248.7,340.1 248.8,341.7 249.0,342.7 249.1,344.0 249.2,344.5 249.4,345.4 249.5,345.8 249.7,346.6 249.8,347.2 250.0,348.0 250.1,348.2 250.3,348.4 250.4,348.3 250.6,348.4 250.7,348.7 250.9,349.1 251.0,349.7 251.2,350.0 251.3,350.4 251.4,350.7 251.6,350.6 251.7,351.0 251.9,351.0 252.0,351.5 252.2,351.3 252.3,351.7 252.5,351.9 252.6,352.2 252.8,352.3 252.9,352.4 253.1,352.5 253.2,352.6 253.4,352.5 253.5,352.8 253.7,352.7 253.8,353.0 253.9,352.8 254.1,353.0 254.7,353.1 255.3,353.6 255.9,354.0 256.4,354.3 257.0,354.3 257.6,354.1 258.2,353.9 258.8,354.1 259.4,354.3 260.0,354.8 260.6,355.2 261.1,355.4 261.7,355.3 262.3,355.2 262.9,355.4 263.5,355.3 264.1,355.2 264.7,355.2 265.3,354.9 265.8,354.7 266.4,354.5 267.0,354.8 267.6,355.0 268.2,354.7 268.8,355.1 269.4,355.2 270.0,355.5 270.5,355.3 271.1,354.9 271.7,355.1 272.3,354.9 272.9,354.8 273.5,353.6 274.1,352.2 274.7,351.1 275.2,350.4 275.8,350.9 276.4,351.3 277.0,352.0 277.6,352.4 278.2,353.0 278.8,353.6 279.4,354.0 279.9,354.4 280.5,354.6 281.1,354.9 281.7,354.7 282.3,355.0 282.9,354.4 283.5,354.2 284.1,353.8 284.6,354.2 285.2,354.6 285.8,354.5 286.4,354.5 287.0,354.3 287.6,354.6 288.2,354.5 288.8,354.7 289.3,354.5 289.9,355.0 290.5,355.0 291.1,354.9 291.7,354.7 292.3,354.6 292.9,354.6 293.5,354.5 294.0,354.2 294.6,354.7 295.2,354.6 295.8,354.7 296.4,354.6 297.0,354.9 297.6,354.8 298.2,354.7 298.7,354.6 299.3,354.7 299.9,354.6 300.5,354.4 301.1,354.6 301.7,354.5 302.3,354.4 302.9,354.2 303.4,354.6 304.0,354.7 304.6,354.7 305.2,354.5 305.8,354.4 306.4,354.7 307.0,354.2 307.6,354.6 308.1,354.0 308.7,354.3 309.3,354.4 309.9,354.7 310.5,354.6 311.1,354.3 311.7,354.1 312.2,354.1 312.8,353.3 313.4,350.8 314.0,345.1 314.6,337.5 315.2,331.6 315.8,331.2 316.4,334.4 316.9,339.6 317.5,345.1 318.1,348.8 318.7,351.2 319.3,351.8 319.9,352.2 320.5,352.0 321.1,351.9 321.6,351.9 322.2,351.6 322.8,351.6 323.4,352.1 324.0,352.6 324.6,353.2 325.2,353.6 325.8,354.2 326.3,354.2 326.9,354.3 327.5,354.2 328.1,354.5 328.7,354.5 329.3,354.6 329.9,354.4 330.5,354.2 331.0,354.1 331.6,354.5 332.2,354.7 332.8,354.9 333.4,354.8 334.0,354.6 334.6,353.9 335.2,353.7 335.7,354.1 336.3,354.4 336.9,354.8 337.5,354.8 338.1,354.6 338.7,354.1 339.3,354.2 339.9,354.8 340.4,354.8 341.0,354.5 341.6,354.4 342.2,354.4 342.8,354.5 343.4,354.7 344.0,354.7 344.6,354.7 345.1,354.5 345.7,354.9 346.3,354.7 346.9,354.6 347.5,354.0 348.1,353.4 348.7,351.3 349.3,348.0 349.8,342.5 350.4,335.7 351.0,328.6 351.6,323.7 352.2,323.0 352.8,325.8 353.4,330.2 354.0,335.5 354.5,339.9 355.1,344.0 355.7,347.2 356.3,349.9 356.9,351.3 357.5,352.1 358.1,352.1 358.7,352.5 359.2,352.9 359.8,353.3 360.4,353.2 361.0,353.2 361.6,353.5 362.2,353.7 362.8,353.7 363.4,353.8 363.9,354.1 364.5,354.3 365.1,354.1 365.7,353.8 366.3,353.9 366.9,354.1 367.5,354.3 368.1,354.5 368.6,354.6 369.2,354.6 369.8,354.6 370.4,354.2 371.0,354.3 371.6,354.3 371.8,354.5 372.1,354.1 372.3,354.0 372.5,354.0 372.8,354.1 373.0,354.1 373.2,354.1 373.5,354.0 373.7,353.8 373.9,353.4 374.2,353.4 374.4,353.4 374.6,353.6 374.9,353.9 375.1,353.8 375.3,353.7 375.6,353.3 375.8,353.2 376.0,353.2 376.3,353.3 376.5,352.9 376.8,352.2 377.0,351.7 377.2,351.3 377.5,350.8 377.7,350.2 377.9,349.6 378.2,349.2 378.4,347.8 378.6,346.6 378.9,345.1 379.1,344.0 379.3,342.2 379.6,339.9 379.8,337.2 380.0,334.5 380.3,331.4 380.5,328.0 380.7,323.9 381.0,319.4 381.2,314.3 381.5,308.9 381.7,302.8 381.9,295.9 382.2,288.4 382.4,280.5 382.6,271.9 382.9,263.0 383.1,253.9 383.3,244.3 383.6,234.5 383.8,225.2 384.0,217.7 384.3,215.0 384.5,221.3 384.7,228.5 385.0,236.3 385.2,244.2 385.4,251.7 385.7,259.5 385.9,266.9 386.2,274.3 386.4,280.7 386.6,286.9 386.9,292.6 387.1,298.1 387.3,303.4 387.6,308.1 387.8,312.4 388.0,316.1 388.3,319.7 388.5,322.7 388.7,325.7 389.0,328.1 389.2,330.5 389.4,332.8 389.7,334.8 389.9,336.6 390.1,338.3 390.4,340.2 390.6,341.2 390.9,342.2 391.1,342.9 391.3,344.0 391.6,344.9 391.8,345.9 392.0,346.7 392.3,347.2 392.5,347.6 392.7,347.7 393.0,348.3 393.2,348.8 393.4,349.6 393.7,349.6 393.9,350.0 394.1,349.9 394.4,350.2 394.6,350.2 394.8,350.4 395.1,351.2 395.3,351.4 395.6,352.0 395.8,351.7 396.0,351.8 396.3,351.8 396.5,351.8 396.7,351.8 397.0,351.9 397.2,352.2 397.4,352.6 397.7,352.7 397.9,352.3 398.1,352.2 398.4,352.2 398.6,352.7 398.8,352.5 399.1,352.6 399.3,352.6 399.5,353.1 399.8,353.3 400.0,353.1 400.3,352.9 400.5,352.7 400.7,353.1 401.0,353.4 401.5,353.5 402.1,353.5 402.7,353.3 403.3,353.5 403.9,353.6 404.5,353.7 405.1,353.6 405.7,353.7 406.2,354.1 406.8,354.2 407.4,354.3 408.0,354.1 408.6,353.9 409.2,353.8 409.8,353.4 410.4,352.9 410.9,352.2 411.5,351.8 412.1,351.3 412.7,350.4 413.3,349.8 413.9,349.8 414.5,350.2 415.1,350.6 415.6,351.0 416.2,351.6 416.8,352.4 417.4,353.0 418.0,353.6 418.6,353.8 419.2,354.3 419.8,354.4 420.3,354.7 420.9,354.2 421.5,353.9 422.1,353.4 422.7,353.5 423.3,353.9 423.9,354.0 424.5,354.2 425.0,354.0 425.6,354.3 426.2,354.4 426.8,354.4 427.4,353.9 428.0,353.8 428.6,353.5 429.2,353.4 429.7,353.6 430.3,354.0 430.9,354.6 431.5,354.4 432.1,354.5 432.7,354.4 433.3,354.2 433.9,353.9 434.4,353.9 435.0,354.0 435.6,354.2 436.2,354.2 436.8,354.1 437.4,354.1 438.0,354.1 438.6,354.4 439.1,354.3 439.7,354.0 440.3,353.8 440.9,354.2 441.5,354.2 442.1,354.3 442.7,354.6 443.3,354.9 443.8,354.7 444.4,354.1 445.0,353.9 445.6,353.9 446.2,353.9 446.8,354.5 447.4,354.8 448.0,354.8 448.5,354.3 449.1,354.3 449.7,354.5 450.3,354.5 450.9,354.7 451.5,354.9 452.1,355.0 452.7,354.7 453.2,354.4 453.8,354.8 454.4,354.8 455.0,355.0 455.6,354.5 456.2,354.5 456.8,354.2 457.4,354.2 457.9,354.3 458.5,354.2 459.1,354.1 459.7,354.0 460.3,353.9 460.9,354.2 461.5,354.1 462.1,354.3 462.6,354.4 463.2,354.5 463.8,354.7 464.4,354.6 465.0,354.6 465.6,354.3 466.2,354.3 466.8,354.3 467.3,354.7 467.9,354.6 468.5,354.5 469.1,354.1 469.7,354.0 470.3,354.3 470.9,354.6 471.5,354.7 472.0,354.9 472.6,354.9 473.2,354.7 473.8,354.7 474.4,354.2 475.0,354.6 475.6,354.3 476.2,354.9 476.7,354.6 477.3,354.8 477.9,354.7 478.5,354.9 479.1,354.9 479.7,354.9 480.3,354.8 480.9,354.9 481.4,354.9 482.0,355.3 482.6,355.3 483.2,355.2 483.8,355.7 484.4,355.9 485.0,356.7 485.6,356.5 486.1,356.5 486.7,355.6 487.3,355.6 487.9,355.4 488.5,355.9 489.1,356.2 489.7,356.4 490.3,356.3 490.8,356.2 491.4,356.3 492.0,356.5 492.6,356.8 493.2,356.9 493.8,357.0 494.4,356.6 495.0,356.6 495.5,356.8 496.1,356.9 496.7,356.7 497.3,356.6 497.9,356.5 498.5,356.5 499.1,356.8 499.7,357.0 500.2,357.0 500.8,357.0 501.4,356.8 502.0,357.0 502.6,356.8 503.2,356.8 503.8,356.8 504.4,356.8 504.9,357.0 505.5,356.9 506.1,356.3 506.7,356.5 507.3,356.5 507.9,357.0 508.5,356.5 509.1,356.6 509.6,357.0 510.2,356.9 510.8,357.0 511.4,356.6 512.0,357.1 512.6,357.1 513.2,357.1 513.8,356.8 514.3,356.4 514.9,356.4 515.5,356.5 516.1,356.7 516.7,356.6 517.3,356.7 517.9,356.5 518.5,356.6 519.0,356.7 519.6,356.7 520.2,356.6 520.8,356.7 521.4,356.5 522.0,356.6 522.6,356.3 523.2,356.6 523.7,356.3 524.3,356.8 524.9,356.5 525.5,356.7 526.1,356.5 526.7,356.9 527.3,356.4 527.9,356.1 528.4,356.4 529.0,356.8 529.6,356.7 530.2,356.7"/>
</g>
<g>
<path class="ax" d="M89.6,6.6 V363.40000000000003"/>
<path class="ax" d="M89.0,362.8 H530.2"/>
<path class="ax" d="M82.2,362.8 H89.6"/>
<text class="ml" transform="translate(76.6,366.81) scale(1,1.045)" text-anchor="end">0</text>
<path class="ax" d="M82.2,323.2 H89.6"/>
<text class="ml" transform="translate(76.6,327.32) scale(1,1.045)" text-anchor="end">5000</text>
<path class="ax" d="M82.2,283.6 H89.6"/>
<text class="ml" transform="translate(76.6,287.83) scale(1,1.045)" text-anchor="end">10000</text>
<path class="ax" d="M82.2,244.1 H89.6"/>
<text class="ml" transform="translate(76.6,248.34) scale(1,1.045)" text-anchor="end">15000</text>
<path class="ax" d="M82.2,204.5 H89.6"/>
<text class="ml" transform="translate(76.6,208.85) scale(1,1.045)" text-anchor="end">20000</text>
<path class="ax" d="M82.2,164.9 H89.6"/>
<text class="ml" transform="translate(76.6,169.36) scale(1,1.045)" text-anchor="end">25000</text>
<path class="ax" d="M82.2,125.3 H89.6"/>
<text class="ml" transform="translate(76.6,129.87) scale(1,1.045)" text-anchor="end">30000</text>
<path class="ax" d="M82.2,85.8 H89.6"/>
<text class="ml" transform="translate(76.6,90.38) scale(1,1.045)" text-anchor="end">35000</text>
<path class="ax" d="M82.2,46.2 H89.6"/>
<text class="ml" transform="translate(76.6,50.89) scale(1,1.045)" text-anchor="end">40000</text>
<path class="ax" d="M82.2,6.6 H89.6"/>
<text class="ml" transform="translate(76.6,11.40) scale(1,1.045)" text-anchor="end">45000</text>
<path class="ax" d="M86,343.0 H89.6"/>
<path class="ax" d="M86,303.4 H89.6"/>
<path class="ax" d="M86,263.9 H89.6"/>
<path class="ax" d="M86,224.3 H89.6"/>
<path class="ax" d="M86,184.7 H89.6"/>
<path class="ax" d="M86,145.1 H89.6"/>
<path class="ax" d="M86,105.5 H89.6"/>
<path class="ax" d="M86,66.0 H89.6"/>
<path class="ax" d="M86,26.4 H89.6"/>
<path class="ax" d="M89.6,362.8 V369.7"/>
<text class="ml" transform="translate(89.6,385.8) scale(1,1.045)" text-anchor="middle">0</text>
<path class="ax" d="M236.5,362.8 V369.7"/>
<text class="ml" transform="translate(236.5,385.8) scale(1,1.045)" text-anchor="middle">500</text>
<path class="ax" d="M383.3,362.8 V369.7"/>
<text class="ml" transform="translate(383.3,385.8) scale(1,1.045)" text-anchor="middle">1000</text>
<path class="ax" d="M530.2,362.8 V369.7"/>
<text class="ml" transform="translate(530.2,385.8) scale(1,1.045)" text-anchor="middle">1500</text>
<path class="ax" d="M163.0,362.8 V366.2"/>
<path class="ax" d="M309.9,362.8 V366.2"/>
<path class="ax" d="M456.8,362.8 V366.2"/>
</g>
<text class="ml" style="font-size:18.5px" transform="translate(14.3,174.5) rotate(-90)" text-anchor="middle">Intensity (cps)</text>
<text class="ml" style="font-size:19px" x="309.4" y="414.1" text-anchor="middle">Time (s)</text>
<text class="ml" style="font-size:15.6px" x="236.6" y="47.7">IO<tspan style="font-size:10.5px" dx="-1.1" dy="4.0">3</tspan><tspan style="font-size:9px" dx="-1.6" dy="-8.6">-</tspan></text>
<text class="ml" x="393.9" y="224">I<tspan style="font-size:9.5px" dx="0.6" dy="-5">-</tspan></text>
<!-- zoom box -->
<rect x="294.7" y="201.6" width="130.1" height="160.3" fill="none" stroke="#262626" stroke-width="1.9"/>
<path d="M294.7,201.6 L447.3,7.9 M424.8,201.8 L447.3,192.5" stroke="#333" stroke-width="0.9" fill="none"/>
<!-- inset -->
<g>
<polyline class="d" stroke="#cc98d0" points="447.5,183.9 448.0,183.8 448.4,184.1 448.9,184.1 449.3,183.9 449.8,183.6 450.2,183.7 450.7,184.0 451.1,183.8 451.6,184.0 452.1,184.0 452.5,184.3 453.0,184.0 453.4,184.1 453.9,184.1 454.3,184.2 454.8,184.2 455.2,184.2 455.7,184.4 456.2,184.4 456.6,184.2 457.1,184.2 457.5,184.2 458.0,184.3 458.4,184.3 458.9,184.2 459.3,184.5 459.8,184.2 460.3,183.8 460.7,183.3 461.2,183.5 461.6,183.8 462.1,184.1 462.5,184.1 463.0,183.9 463.4,184.2 463.9,184.0 464.4,184.3 464.8,183.8 465.3,184.0 465.7,184.1 466.2,184.3 466.6,184.2 467.1,184.1 467.5,184.0 468.0,184.2 468.5,184.6 468.9,184.5 469.4,184.3 469.8,184.0 470.3,184.1 470.7,184.0 471.2,184.1 471.6,184.3 472.1,184.5 472.6,184.2 473.0,184.3 473.5,184.1 473.9,184.4 474.4,184.3 474.8,184.3 475.3,184.2 475.7,184.3 476.2,184.5 476.7,184.4 477.1,184.0 477.6,184.0 478.0,184.1 478.5,184.2 478.9,184.2 479.4,184.2 479.8,184.3 480.3,184.3 480.8,184.4 481.2,184.4 481.7,184.3 482.1,184.3 482.6,184.4 483.0,184.3 483.5,184.1 483.9,183.9 484.4,183.9 484.9,183.9 485.3,183.6 485.8,184.0 486.2,183.9 486.7,184.3 487.1,183.9 487.6,183.8 488.0,184.0 488.5,184.5 489.0,184.7 489.4,184.2 489.9,183.9 490.3,184.1 490.8,184.1 491.2,184.1 491.7,184.1 492.1,184.1 492.6,184.5 493.1,184.4 493.5,184.7 494.0,184.2 494.4,184.4 494.9,184.3 495.3,184.4 495.8,184.5 496.2,184.5 496.7,184.9 497.2,184.7 497.6,184.5 498.1,184.1 498.5,184.1 499.0,184.0 499.4,184.2 499.9,184.2 500.3,184.3 500.8,184.1 501.3,184.1 501.7,184.3 502.2,184.5 502.6,184.4 503.1,184.5 503.5,184.3 504.0,184.4 504.4,184.2 504.9,184.5 505.4,184.3 505.8,184.4 506.3,184.3 506.7,184.0 507.2,184.0 507.6,183.7 508.1,183.9 508.6,184.0 509.0,184.4 509.5,184.5 509.9,184.3 510.4,184.3 510.8,184.4 511.3,184.7 511.7,184.7 512.2,185.0 512.7,184.7 513.1,184.8 513.6,184.5 514.0,184.6 514.5,184.5 514.9,184.6 515.4,184.8 515.8,185.1 516.3,185.2 516.8,185.0 517.2,184.6 517.7,184.5 518.1,184.2 518.6,184.7 519.0,184.5 519.5,184.6 519.9,184.4 520.4,184.4 520.9,184.0 521.3,184.0 521.8,184.1 522.2,184.5 522.7,184.4 523.1,184.5 523.6,184.2 524.0,184.3 524.5,184.0 525.0,184.5 525.4,184.5 525.9,184.6 526.3,184.4 526.8,184.4 527.2,184.6 527.7,184.7 528.1,184.6 528.6,184.1 529.1,183.6 529.5,183.7 530.0,184.0 530.4,184.1 530.9,183.6 531.3,183.4 531.8,183.2 532.2,183.0 532.7,182.6 533.2,182.4 533.6,182.7 534.1,183.1 534.5,183.2 535.0,183.4 535.4,183.2 535.9,183.3 536.3,183.0 536.8,182.9 537.3,182.8 537.7,183.2 538.2,183.5 538.6,183.6 539.1,183.7 539.5,184.1 540.0,184.3 540.4,184.6 540.9,184.3 541.4,184.7 541.8,184.6 542.3,185.0 542.7,184.6 543.2,184.5 543.6,184.4 544.1,184.4 544.5,184.3 545.0,184.7 545.5,184.6 545.9,184.9 546.4,184.6 546.8,184.5 547.3,184.6 547.7,184.7 548.2,184.6 548.6,184.4 549.1,184.4 549.6,184.2 550.0,183.9 550.5,184.0 550.9,184.3 551.4,184.3 551.8,183.9 552.3,183.9 552.7,184.4 553.2,184.6 553.7,184.7 554.1,184.7 554.6,184.5 555.0,184.5 555.5,184.5 555.9,184.8 556.4,184.8 556.8,184.9 557.3,184.7 557.8,184.5 558.2,184.3 558.7,184.2 559.1,184.3 559.6,184.4 560.0,184.5 560.5,184.6 560.9,184.5 561.4,184.6 561.9,184.4 562.3,184.5 562.8,184.4 563.2,184.7 563.7,184.8 564.1,184.7 564.6,184.7 565.0,184.4 565.5,184.6 566.0,184.8 566.2,185.1 566.4,185.3 566.6,185.0 566.9,184.7 567.1,184.3 567.3,184.5 567.6,184.8 567.8,184.6 568.0,184.3 568.2,184.2 568.5,184.3 568.7,183.9 568.9,183.7 569.1,183.9 569.4,184.2 569.6,184.3 569.8,184.4 570.1,184.6 570.3,184.7 570.5,184.7 570.7,184.5 571.0,184.5 571.2,183.9 571.4,184.0 571.7,184.0 571.9,184.3 572.1,184.0 572.3,183.8 572.6,183.7 572.8,183.8 573.0,184.1 573.2,184.1 573.5,183.7 573.7,183.3 573.9,183.1 574.2,183.0 574.4,182.7 574.6,182.2 574.8,181.9 575.1,181.5 575.3,181.5 575.5,181.1 575.8,180.2 576.0,179.7 576.2,178.8 576.4,178.3 576.7,177.1 576.9,176.2 577.1,175.2 577.3,173.9 577.6,172.4 577.8,171.2 578.0,169.6 578.3,167.8 578.5,165.6 578.7,163.3 578.9,160.6 579.2,157.7 579.4,154.9 579.6,151.7 579.9,148.2 580.1,144.2 580.3,140.0 580.5,135.9 580.8,131.5 581.0,126.6 581.2,121.5 581.4,115.9 581.7,110.3 581.9,104.1 582.1,98.2 582.4,91.8 582.6,85.3 582.8,78.4 583.0,71.9 583.3,66.0 583.5,61.1 583.7,57.9 584.0,60.9 584.2,64.9 584.4,69.2 584.6,73.8 584.9,78.6 585.1,83.9 585.3,89.3 585.5,94.4 585.8,99.2 586.0,103.6 586.2,107.9 586.5,112.3 586.7,116.7 586.9,120.6 587.1,124.4 587.4,128.3 587.6,132.1 587.8,135.4 588.1,138.4 588.3,141.2 588.5,143.9 588.7,146.5 589.0,149.0 589.2,151.4 589.4,154.1 589.6,156.4 589.9,158.4 590.1,160.0 590.3,161.5 590.6,163.2 590.8,164.7 591.0,166.0 591.2,167.1 591.5,168.1 591.7,169.3 591.9,170.2 592.2,171.1 592.4,172.5 592.6,173.6 592.8,174.4 593.1,174.9 593.3,175.4 593.5,175.7 593.7,176.1 594.0,176.8 594.2,177.2 594.4,177.6 594.7,178.0 594.9,178.6 595.1,178.8 595.3,179.0 595.6,179.2 595.8,179.6 596.0,179.9 596.3,180.2 596.5,180.2 596.7,180.4 596.9,180.5 597.2,180.8 597.4,180.4 597.6,180.7 597.8,180.6 598.1,181.2 598.3,181.2 598.5,181.4 598.8,181.4 599.0,181.3 599.2,181.4 599.4,181.7 599.7,182.1 599.9,182.1 600.1,182.0 600.4,181.8 600.6,181.9 600.8,181.8 601.0,181.9 601.3,182.0 601.5,182.4 601.7,182.9 601.9,183.2 602.2,182.8 602.4,182.7 602.6,182.4 602.9,182.6 603.1,182.2 603.3,182.3 603.5,182.4 603.8,182.7 604.0,182.9 604.2,182.9 604.5,183.0 604.7,183.0 604.9,182.8 605.1,183.1 605.4,183.0 605.6,183.5 605.8,183.2 606.0,183.1 606.3,183.0 606.5,182.9 606.7,183.4 607.0,183.2 607.2,183.4 607.4,183.1 607.6,183.3 607.9,183.6 608.1,183.8 608.3,183.8 608.6,183.2 608.8,183.1 609.0,183.1 609.2,183.6 609.5,183.4 609.7,183.2 609.9,183.0 610.1,183.2 610.4,183.8 610.6,183.7 610.8,183.2 611.1,182.9 611.3,182.8 611.5,183.2 612.0,183.5 612.4,183.5 612.9,183.8 613.3,183.7 613.8,183.9 614.2,183.6 614.7,183.5 615.2,183.5 615.6,183.8 616.1,184.1 616.5,184.1 617.0,184.1 617.4,184.1 617.9,184.4 618.3,184.3 618.8,184.4 619.3,184.5 619.7,184.7 620.2,184.3 620.6,184.1 621.1,183.5 621.5,183.8 622.0,183.9 622.5,184.1 622.9,183.9 623.4,183.8 623.8,183.6 624.3,183.5 624.7,183.6 625.2,183.9 625.6,183.6 626.1,183.2 626.6,183.0 627.0,183.0 627.5,182.8 627.9,182.2 628.4,182.0 628.8,181.9 629.3,181.8 629.7,181.9 630.2,182.1 630.7,182.2 631.1,182.1 631.6,182.5 632.0,182.7 632.5,182.7 632.9,182.2 633.4,182.7 633.8,182.6 634.3,183.2 634.8,182.8 635.2,183.2 635.7,183.0 636.1,183.2 636.6,183.7 637.0,183.8 637.5,184.0 637.9,184.3 638.4,184.0 638.9,183.8 639.3,183.1 639.8,183.8 640.2,183.7 640.7,183.7 641.1,183.3 641.6,183.6 642.0,184.0 642.5,184.3 643.0,184.6 643.4,184.7 643.9,184.7 644.3,184.5 644.8,184.2 645.2,184.3 645.7,183.8 646.1,183.6 646.6,183.5 647.1,183.7 647.5,184.0 648.0,184.0 648.4,184.1 648.9,184.1 649.3,184.1 649.8,184.5 650.2,184.3 650.7,184.0 651.2,183.9 651.6,183.8 652.1,184.2 652.5,184.3 653.0,184.5 653.4,184.2 653.9,183.6 654.3,183.3 654.8,183.7 655.3,183.9 655.7,184.1 656.2,183.8 656.6,183.9 657.1,183.8 657.5,183.8 658.0,183.9 658.4,184.0 658.9,184.4 659.4,184.4 659.8,184.5 660.3,184.3 660.7,184.4 661.2,184.1 661.6,184.0 662.1,184.1 662.5,184.2 663.0,184.5 663.5,184.1 663.9,183.7 664.4,183.4 664.8,183.6 665.3,183.6 665.7,184.0 666.2,183.7 666.6,184.0 667.1,184.2 667.6,184.0 668.0,183.7 668.5,183.4 668.9,183.8 669.4,184.1 669.8,183.9 670.3,184.2 670.7,184.2 671.2,184.2 671.7,183.9 672.1,183.6 672.6,183.6 673.0,183.3 673.5,183.6 673.9,183.6 674.4,184.2 674.8,184.3 675.3,184.2"/>
<polyline class="d" stroke="#c4505c" points="447.5,184.4 448.0,184.3 448.4,184.5 448.9,184.8 449.3,184.8 449.8,184.9 450.2,184.5 450.7,184.3 451.1,183.6 451.6,183.6 452.1,183.9 452.5,184.5 453.0,185.1 453.4,185.1 453.9,185.0 454.3,184.3 454.8,184.1 455.2,184.0 455.7,184.1 456.2,184.1 456.6,184.0 457.1,184.2 457.5,184.4 458.0,184.8 458.4,184.4 458.9,184.1 459.3,183.8 459.8,184.2 460.3,184.4 460.7,184.6 461.2,184.4 461.6,184.4 462.1,184.3 462.5,184.4 463.0,184.2 463.4,184.2 463.9,184.2 464.4,184.4 464.8,184.5 465.3,184.3 465.7,184.3 466.2,184.2 466.6,184.4 467.1,184.6 467.5,184.5 468.0,184.6 468.5,184.3 468.9,184.3 469.4,184.4 469.8,184.7 470.3,184.8 470.7,184.7 471.2,184.8 471.6,184.6 472.1,184.5 472.6,184.2 473.0,184.4 473.5,184.3 473.9,184.5 474.4,184.4 474.8,184.4 475.3,184.3 475.7,184.3 476.2,184.6 476.7,184.6 477.1,184.4 477.6,184.3 478.0,184.5 478.5,184.4 478.9,184.0 479.4,183.9 479.8,183.9 480.3,184.3 480.8,184.6 481.2,184.7 481.7,184.8 482.1,184.2 482.6,184.3 483.0,184.3 483.5,184.5 483.9,184.5 484.4,184.4 484.9,184.4 485.3,184.7 485.8,184.6 486.2,184.5 486.7,183.9 487.1,183.8 487.6,183.9 488.0,184.0 488.5,183.9 489.0,183.7 489.4,183.7 489.9,183.9 490.3,184.1 490.8,184.3 491.2,184.2 491.7,184.2 492.1,184.4 492.6,184.8 493.1,184.9 493.5,185.1 494.0,184.7 494.4,184.6 494.9,184.6 495.3,184.5 495.8,184.3 496.2,184.1 496.7,183.9 497.2,183.8 497.6,184.0 498.1,184.1 498.5,184.3 499.0,184.0 499.4,184.0 499.9,184.2 500.3,184.4 500.8,184.7 501.3,184.7 501.7,184.6 502.2,184.7 502.6,184.7 503.1,184.6 503.5,184.4 504.0,184.2 504.4,184.6 504.9,184.7 505.4,184.8 505.8,184.5 506.3,184.5 506.7,184.3 507.2,184.3 507.6,184.2 508.1,184.3 508.6,184.2 509.0,184.3 509.5,184.1 509.9,184.1 510.4,184.0 510.8,184.2 511.3,184.2 511.7,184.1 512.2,183.9 512.7,183.9 513.1,184.0 513.6,184.1 514.0,184.0 514.5,184.1 514.9,184.4 515.4,184.4 515.8,184.4 516.3,184.3 516.8,184.5 517.2,184.7 517.7,184.1 518.1,184.0 518.6,184.1 519.0,184.4 519.5,184.5 519.9,184.0 520.4,184.2 520.9,184.5 521.3,184.8 521.8,184.7 522.2,184.4 522.7,184.8 523.1,184.6 523.6,184.3 524.0,184.3 524.5,184.1 525.0,184.5 525.4,183.8 525.9,183.9 526.3,183.9 526.8,184.1 527.2,184.0 527.7,184.0 528.1,184.0 528.6,184.0 529.1,183.9 529.5,183.3 530.0,182.8 530.4,181.9 530.9,181.4 531.3,180.6 531.8,179.8 532.2,179.0 532.7,178.0 533.2,177.3 533.6,176.8 534.1,177.0 534.5,177.3 535.0,177.7 535.4,178.3 535.9,178.9 536.3,179.7 536.8,179.9 537.3,180.4 537.7,180.8 538.2,181.6 538.6,182.1 539.1,182.7 539.5,182.7 540.0,183.0 540.4,183.2 540.9,183.4 541.4,183.4 541.8,183.5 542.3,183.6 542.7,183.8 543.2,183.8 543.6,184.0 544.1,184.1 544.5,184.2 545.0,184.3 545.5,183.9 545.9,183.6 546.4,183.7 546.8,183.7 547.3,183.9 547.7,183.8 548.2,184.0 548.6,183.9 549.1,183.6 549.6,183.7 550.0,183.9 550.5,184.1 550.9,184.2 551.4,184.1 551.8,184.8 552.3,184.6 552.7,184.4 553.2,183.8 553.7,183.8 554.1,183.7 554.6,183.8 555.0,183.8 555.5,184.2 555.9,184.3 556.4,184.2 556.8,184.1 557.3,184.2 557.8,184.3 558.2,184.4 558.7,184.3 559.1,184.3 559.6,184.4 560.0,184.5 560.5,184.7 560.9,184.4 561.4,184.4 561.9,184.2 562.3,184.3 562.8,183.9 563.2,184.1 563.7,184.0 564.1,183.7 564.6,182.8 565.0,182.0 565.5,180.9 566.0,179.3 566.2,178.1 566.4,176.9 566.6,176.2 566.9,175.4 567.1,174.5 567.3,173.5 567.6,173.1 567.8,172.6 568.0,172.4 568.2,172.3 568.5,172.4 568.7,172.5 568.9,172.7 569.1,173.1 569.4,173.9 569.6,174.4 569.8,175.1 570.1,175.5 570.3,176.1 570.5,177.1 570.7,178.1 571.0,179.0 571.2,179.4 571.4,179.4 571.7,180.0 571.9,180.7 572.1,181.4 572.3,182.0 572.6,182.4 572.8,182.4 573.0,182.4 573.2,182.2 573.5,182.6 573.7,182.4 573.9,182.5 574.2,182.4 574.4,182.7 574.6,182.9 574.8,182.7 575.1,182.1 575.3,181.5 575.5,181.4 575.8,181.3 576.0,181.1 576.2,180.5 576.4,179.9 576.7,179.2 576.9,178.7 577.1,178.0 577.3,177.2 577.6,176.2 577.8,175.6 578.0,174.4 578.3,173.0 578.5,171.5 578.7,170.1 578.9,168.6 579.2,166.5 579.4,164.3 579.6,162.4 579.9,160.0 580.1,157.6 580.3,154.4 580.5,151.2 580.8,147.5 581.0,143.5 581.2,138.9 581.4,134.3 581.7,129.6 581.9,125.2 582.1,120.1 582.4,114.7 582.6,108.8 582.8,102.7 583.0,96.2 583.3,89.7 583.5,83.1 583.7,76.6 584.0,70.5 584.2,64.3 584.4,58.8 584.6,54.9 584.9,57.9 585.1,62.1 585.3,66.8 585.5,72.0 585.8,76.6 586.0,81.5 586.2,86.4 586.5,91.9 586.7,96.9 586.9,102.0 587.1,106.6 587.4,111.0 587.6,115.1 587.8,119.2 588.1,123.1 588.3,127.1 588.5,130.6 588.7,134.3 589.0,137.5 589.2,140.5 589.4,143.5 589.6,145.8 589.9,148.6 590.1,150.5 590.3,153.2 590.6,155.1 590.8,157.6 591.0,159.5 591.2,161.3 591.5,162.6 591.7,164.1 591.9,165.3 592.2,166.8 592.4,167.8 592.6,169.0 592.8,169.8 593.1,171.1 593.3,171.7 593.5,172.5 593.7,173.1 594.0,174.2 594.2,175.2 594.4,175.9 594.7,176.2 594.9,176.5 595.1,176.9 595.3,177.5 595.6,177.6 595.8,177.8 596.0,178.2 596.3,178.5 596.5,178.7 596.7,178.8 596.9,179.4 597.2,179.9 597.4,180.4 597.6,180.5 597.8,180.5 598.1,180.4 598.3,180.4 598.5,180.5 598.8,180.6 599.0,181.0 599.2,181.5 599.4,181.7 599.7,181.8 599.9,181.7 600.1,181.7 600.4,181.9 600.6,182.0 600.8,182.1 601.0,181.9 601.3,181.9 601.5,181.9 601.7,182.0 601.9,182.1 602.2,182.3 602.4,182.0 602.6,182.0 602.9,181.8 603.1,182.0 603.3,181.7 603.5,182.0 603.8,182.0 604.0,182.2 604.2,182.2 604.5,182.6 604.7,182.5 604.9,182.5 605.1,182.5 605.4,182.5 605.6,182.6 605.8,182.8 606.0,182.9 606.3,182.7 606.5,182.4 606.7,182.7 607.0,182.7 607.2,182.8 607.4,182.4 607.6,182.8 607.9,182.8 608.1,183.2 608.3,183.2 608.6,183.4 608.8,183.2 609.0,183.1 609.2,183.1 609.5,183.1 609.7,182.9 609.9,182.7 610.1,182.9 610.4,183.1 610.6,183.1 610.8,183.1 611.1,183.3 611.3,183.3 611.5,183.0 612.0,183.1 612.4,183.6 612.9,184.2 613.3,184.2 613.8,183.8 614.2,183.5 614.7,183.4 615.2,183.5 615.6,183.6 616.1,183.7 616.5,183.7 617.0,183.8 617.4,183.2 617.9,183.1 618.3,183.2 618.8,183.8 619.3,184.0 619.7,184.1 620.2,184.1 620.6,184.2 621.1,183.8 621.5,183.7 622.0,183.7 622.5,184.1 622.9,184.2 623.4,184.1 623.8,183.9 624.3,183.5 624.7,183.5 625.2,183.2 625.6,183.2 626.1,183.0 626.6,183.3 627.0,183.3 627.5,182.9 627.9,182.0 628.4,181.5 628.8,181.1 629.3,181.1 629.7,180.9 630.2,181.0 630.7,180.6 631.1,180.5 631.6,180.4 632.0,180.7 632.5,180.8 632.9,180.9 633.4,181.2 633.8,181.2 634.3,181.5 634.8,181.6 635.2,181.9 635.7,182.0 636.1,182.2 636.6,182.6 637.0,183.1 637.5,183.4 637.9,184.0 638.4,183.7 638.9,184.0 639.3,183.7 639.8,184.0 640.2,184.0 640.7,184.1 641.1,184.0 641.6,183.8 642.0,183.5 642.5,183.5 643.0,183.4 643.4,183.8 643.9,183.8 644.3,183.9 644.8,183.9 645.2,184.0 645.7,184.0 646.1,183.9 646.6,183.8 647.1,183.9 647.5,184.1 648.0,184.0 648.4,184.2 648.9,184.2 649.3,184.0 649.8,184.2 650.2,184.2 650.7,184.4 651.2,184.2 651.6,183.7 652.1,184.2 652.5,183.7 653.0,183.9 653.4,183.3 653.9,183.6 654.3,183.8 654.8,184.0 655.3,183.9 655.7,184.1 656.2,184.0 656.6,184.0 657.1,184.0 657.5,184.0 658.0,184.1 658.4,184.2 658.9,183.9 659.4,183.9 659.8,183.9 660.3,184.1 660.7,184.3 661.2,184.1 661.6,184.1 662.1,184.1 662.5,183.9 663.0,184.0 663.5,183.7 663.9,183.9 664.4,183.6 664.8,183.9 665.3,183.9 665.7,184.2 666.2,184.1 666.6,183.8 667.1,183.3 667.6,183.2 668.0,183.3 668.5,183.7 668.9,183.8 669.4,183.9 669.8,183.6 670.3,183.5 670.7,183.6 671.2,184.0 671.7,183.9 672.1,183.7 672.6,183.6 673.0,183.7 673.5,183.8 673.9,183.8 674.4,184.0 674.8,184.3 675.3,184.1"/>
<polyline class="d" stroke="#3a9a84" points="447.5,185.2 448.0,185.0 448.4,184.8 448.9,184.4 449.3,184.5 449.8,184.6 450.2,184.7 450.7,184.7 451.1,184.7 451.6,184.5 452.1,184.4 452.5,184.2 453.0,184.6 453.4,184.6 453.9,185.0 454.3,185.0 454.8,184.8 455.2,184.2 455.7,184.0 456.2,184.1 456.6,184.4 457.1,184.7 457.5,184.8 458.0,184.7 458.4,184.8 458.9,184.6 459.3,184.8 459.8,185.0 460.3,185.3 460.7,185.4 461.2,185.3 461.6,185.0 462.1,184.8 462.5,184.5 463.0,184.5 463.4,184.3 463.9,184.4 464.4,184.4 464.8,184.5 465.3,184.4 465.7,184.5 466.2,184.8 466.6,185.0 467.1,185.0 467.5,184.7 468.0,184.6 468.5,184.6 468.9,184.6 469.4,184.3 469.8,184.2 470.3,184.1 470.7,184.4 471.2,184.6 471.6,184.7 472.1,184.7 472.6,184.7 473.0,184.5 473.5,184.4 473.9,184.4 474.4,184.3 474.8,183.4 475.3,182.3 475.7,180.7 476.2,178.7 476.7,175.8 477.1,172.4 477.6,168.5 478.0,164.7 478.5,162.3 478.9,161.2 479.4,162.2 479.8,163.5 480.3,165.6 480.8,167.7 481.2,170.2 481.7,173.2 482.1,175.6 482.6,177.8 483.0,178.7 483.5,180.0 483.9,180.7 484.4,181.8 484.9,182.1 485.3,182.4 485.8,182.0 486.2,181.9 486.7,181.5 487.1,181.6 487.6,181.6 488.0,181.5 488.5,181.6 489.0,181.9 489.4,182.2 489.9,182.4 490.3,182.4 490.8,182.6 491.2,182.8 491.7,182.8 492.1,183.3 492.6,183.2 493.1,183.3 493.5,183.5 494.0,183.9 494.4,184.4 494.9,184.4 495.3,184.2 495.8,184.4 496.2,184.3 496.7,184.7 497.2,184.7 497.6,185.1 498.1,184.6 498.5,184.5 499.0,184.1 499.4,184.6 499.9,184.4 500.3,184.8 500.8,184.7 501.3,184.5 501.7,184.2 502.2,184.2 502.6,184.5 503.1,184.5 503.5,184.5 504.0,184.5 504.4,184.3 504.9,184.3 505.4,184.5 505.8,184.5 506.3,184.5 506.7,184.2 507.2,184.2 507.6,184.2 508.1,184.8 508.6,184.8 509.0,184.7 509.5,184.4 509.9,184.9 510.4,185.2 510.8,184.9 511.3,184.7 511.7,184.6 512.2,184.7 512.7,184.3 513.1,184.3 513.6,184.3 514.0,184.6 514.5,184.3 514.9,184.1 515.4,184.1 515.8,184.6 516.3,184.8 516.8,184.7 517.2,184.6 517.7,184.4 518.1,184.4 518.6,184.2 519.0,184.3 519.5,184.2 519.9,184.4 520.4,184.6 520.9,184.3 521.3,184.3 521.8,184.3 522.2,184.5 522.7,184.3 523.1,184.4 523.6,184.8 524.0,184.6 524.5,184.3 525.0,183.7 525.4,183.6 525.9,183.2 526.3,183.0 526.8,182.1 527.2,181.0 527.7,179.0 528.1,176.5 528.6,173.3 529.1,170.1 529.5,166.5 530.0,163.4 530.4,160.7 530.9,159.1 531.3,158.6 531.8,159.3 532.2,160.8 532.7,162.7 533.2,165.1 533.6,167.9 534.1,170.5 534.5,173.3 535.0,175.4 535.4,177.3 535.9,178.6 536.3,179.7 536.8,180.3 537.3,181.1 537.7,181.7 538.2,182.1 538.6,182.0 539.1,181.8 539.5,181.7 540.0,181.7 540.4,181.7 540.9,181.9 541.4,182.3 541.8,182.6 542.3,182.7 542.7,182.5 543.2,182.3 543.6,182.2 544.1,182.3 544.5,182.2 545.0,182.2 545.5,182.1 545.9,182.1 546.4,182.3 546.8,182.4 547.3,182.4 547.7,182.2 548.2,182.1 548.6,182.2 549.1,181.9 549.6,182.0 550.0,181.9 550.5,182.2 550.9,182.3 551.4,182.2 551.8,181.9 552.3,181.6 552.7,181.5 553.2,181.7 553.7,181.8 554.1,181.8 554.6,181.9 555.0,182.0 555.5,182.1 555.9,182.0 556.4,181.9 556.8,181.8 557.3,182.3 557.8,182.2 558.2,181.9 558.7,181.4 559.1,181.7 559.6,182.2 560.0,182.4 560.5,182.5 560.9,182.3 561.4,182.5 561.9,182.2 562.3,182.1 562.8,182.4 563.2,182.6 563.7,182.9 564.1,182.9 564.6,183.0 565.0,183.0 565.5,182.7 566.0,182.8 566.2,182.7 566.4,182.5 566.6,182.2 566.9,182.3 567.1,182.7 567.3,183.0 567.6,183.0 567.8,182.9 568.0,182.7 568.2,182.4 568.5,182.3 568.7,182.4 568.9,182.6 569.1,182.9 569.4,183.2 569.6,183.5 569.8,183.4 570.1,183.2 570.3,183.2 570.5,182.8 570.7,182.7 571.0,182.5 571.2,182.9 571.4,183.1 571.7,183.1 571.9,183.2 572.1,183.2 572.3,183.3 572.6,183.1 572.8,182.9 573.0,182.8 573.2,183.0 573.5,183.2 573.7,183.5 573.9,183.3 574.2,183.4 574.4,183.1 574.6,183.1 574.8,182.8 575.1,182.9 575.3,183.2 575.5,183.0 575.8,182.9 576.0,182.4 576.2,182.5 576.4,182.2 576.7,182.0 576.9,181.9 577.1,181.6 577.3,181.9 577.6,181.6 577.8,181.6 578.0,181.0 578.3,180.8 578.5,180.3 578.7,179.6 578.9,179.3 579.2,178.8 579.4,178.5 579.6,177.3 579.9,176.5 580.1,175.4 580.3,174.5 580.5,173.2 580.8,171.8 581.0,170.3 581.2,168.8 581.4,167.4 581.7,165.3 581.9,163.0 582.1,160.5 582.4,157.8 582.6,155.4 582.8,152.5 583.0,149.5 583.3,145.6 583.5,141.3 583.7,136.9 584.0,132.3 584.2,127.4 584.4,122.3 584.6,117.1 584.9,111.7 585.1,105.4 585.3,99.4 585.5,93.0 585.8,86.8 586.0,80.1 586.2,74.1 586.5,68.6 586.7,63.5 586.9,59.8 587.1,63.0 587.4,66.9 587.6,71.3 587.8,75.5 588.1,80.0 588.3,84.7 588.5,89.8 588.7,94.5 589.0,98.7 589.2,102.7 589.4,107.0 589.6,111.1 589.9,115.3 590.1,119.1 590.3,123.2 590.6,126.5 590.8,130.0 591.0,132.9 591.2,136.1 591.5,139.0 591.7,142.2 591.9,144.6 592.2,147.0 592.4,148.9 592.6,151.3 592.8,153.3 593.1,155.1 593.3,156.7 593.5,158.2 593.7,159.8 594.0,161.3 594.2,163.0 594.4,164.2 594.7,165.3 594.9,166.0 595.1,167.5 595.3,168.8 595.6,170.1 595.8,170.8 596.0,171.1 596.3,171.4 596.5,172.0 596.7,172.7 596.9,173.3 597.2,173.9 597.4,174.4 597.6,174.9 597.8,175.7 598.1,176.2 598.3,176.4 598.5,176.5 598.8,176.8 599.0,177.4 599.2,177.7 599.4,177.8 599.7,178.0 599.9,178.3 600.1,179.2 600.4,179.5 600.6,179.9 600.8,179.8 601.0,179.8 601.3,179.6 601.5,179.7 601.7,179.9 601.9,180.1 602.2,180.0 602.4,180.2 602.6,180.6 602.9,180.8 603.1,181.3 603.3,181.3 603.5,181.1 603.8,181.1 604.0,181.2 604.2,181.6 604.5,181.5 604.7,181.4 604.9,181.2 605.1,181.4 605.4,181.7 605.6,181.9 605.8,181.9 606.0,181.9 606.3,181.8 606.5,181.6 606.7,181.6 607.0,181.7 607.2,181.8 607.4,181.9 607.6,182.1 607.9,182.5 608.1,182.4 608.3,182.3 608.6,182.1 608.8,182.2 609.0,182.2 609.2,182.0 609.5,182.3 609.7,182.6 609.9,182.7 610.1,182.4 610.4,182.5 610.6,182.6 610.8,182.9 611.1,183.1 611.3,183.1 611.5,183.1 612.0,182.8 612.4,183.0 612.9,183.0 613.3,183.3 613.8,183.4 614.2,183.2 614.7,183.2 615.2,183.0 615.6,183.3 616.1,183.3 616.5,183.6 617.0,183.6 617.4,183.7 617.9,183.3 618.3,183.3 618.8,183.2 619.3,183.2 619.7,183.2 620.2,183.1 620.6,183.2 621.1,183.2 621.5,183.4 622.0,183.5 622.5,183.5 622.9,183.4 623.4,183.3 623.8,183.0 624.3,183.1 624.7,183.4 625.2,183.5 625.6,183.3 626.1,182.8 626.6,182.6 627.0,182.3 627.5,182.1 627.9,181.8 628.4,181.4 628.8,180.9 629.3,180.2 629.7,179.8 630.2,179.8 630.7,180.0 631.1,180.0 631.6,180.1 632.0,180.0 632.5,180.3 632.9,180.5 633.4,180.8 633.8,180.9 634.3,180.9 634.8,181.1 635.2,181.7 635.7,182.4 636.1,182.9 636.6,183.0 637.0,183.0 637.5,182.9 637.9,183.0 638.4,183.2 638.9,183.5 639.3,183.7 639.8,184.0 640.2,184.1 640.7,183.7 641.1,183.7 641.6,183.4 642.0,183.5 642.5,183.3 643.0,183.5 643.4,183.8 643.9,183.8 644.3,183.7 644.8,183.6 645.2,183.4 645.7,183.3 646.1,183.3 646.6,183.4 647.1,183.6 647.5,183.6 648.0,183.8 648.4,183.7 648.9,183.8 649.3,183.7 649.8,183.4 650.2,183.6 650.7,183.6 651.2,183.9 651.6,184.1 652.1,184.1 652.5,184.3 653.0,184.2 653.4,184.1 653.9,183.8 654.3,183.5 654.8,183.3 655.3,183.2 655.7,183.2 656.2,183.4 656.6,183.5 657.1,183.6 657.5,183.6 658.0,183.6 658.4,183.4 658.9,183.2 659.4,183.4 659.8,183.3 660.3,183.6 660.7,183.7 661.2,184.0 661.6,183.8 662.1,183.9 662.5,183.5 663.0,183.4 663.5,183.4 663.9,183.7 664.4,183.9 664.8,183.8 665.3,183.7 665.7,183.5 666.2,183.8 666.6,183.9 667.1,183.9 667.6,183.5 668.0,183.3 668.5,183.5 668.9,183.5 669.4,183.8 669.8,183.6 670.3,183.6 670.7,183.4 671.2,183.5 671.7,183.5 672.1,183.8 672.6,183.9 673.0,183.9 673.5,183.7 673.9,183.7 674.4,183.9 674.8,183.9 675.3,183.4"/>
<polyline class="d" stroke="#505050" points="447.5,183.1 448.0,183.5 448.4,183.6 448.9,183.9 449.3,183.7 449.8,183.7 450.2,183.7 450.7,183.6 451.1,183.8 451.6,183.7 452.1,184.0 452.5,183.9 453.0,184.0 453.4,183.7 453.9,183.6 454.3,183.7 454.8,183.9 455.2,184.2 455.7,184.2 456.2,184.3 456.6,184.2 457.1,184.0 457.5,184.1 458.0,184.2 458.4,184.1 458.9,184.0 459.3,184.1 459.8,183.9 460.3,183.5 460.7,183.6 461.2,184.1 461.6,184.2 462.1,184.2 462.5,184.0 463.0,184.1 463.4,183.8 463.9,184.2 464.4,184.5 464.8,184.8 465.3,184.2 465.7,183.9 466.2,184.0 466.6,184.0 467.1,183.9 467.5,183.7 468.0,183.8 468.5,183.8 468.9,183.6 469.4,183.5 469.8,183.5 470.3,183.7 470.7,183.8 471.2,184.0 471.6,184.0 472.1,184.0 472.6,183.8 473.0,183.7 473.5,183.6 473.9,183.4 474.4,183.8 474.8,183.8 475.3,184.0 475.7,183.9 476.2,184.1 476.7,183.9 477.1,183.6 477.6,183.6 478.0,183.9 478.5,184.1 478.9,184.0 479.4,183.6 479.8,183.8 480.3,184.0 480.8,184.3 481.2,184.1 481.7,183.8 482.1,183.6 482.6,183.3 483.0,183.4 483.5,183.6 483.9,184.2 484.4,184.1 484.9,183.9 485.3,183.6 485.8,183.5 486.2,183.6 486.7,183.3 487.1,183.5 487.6,183.6 488.0,184.0 488.5,184.3 489.0,184.4 489.4,184.2 489.9,183.8 490.3,183.3 490.8,183.3 491.2,183.5 491.7,184.0 492.1,183.8 492.6,183.7 493.1,183.6 493.5,183.7 494.0,183.6 494.4,183.8 494.9,183.8 495.3,183.9 495.8,183.7 496.2,183.8 496.7,183.6 497.2,183.3 497.6,182.9 498.1,183.4 498.5,183.7 499.0,183.9 499.4,183.9 499.9,183.9 500.3,184.3 500.8,183.8 501.3,183.5 501.7,183.2 502.2,183.4 502.6,183.7 503.1,183.8 503.5,183.7 504.0,183.8 504.4,183.5 504.9,183.7 505.4,183.7 505.8,183.7 506.3,183.7 506.7,183.4 507.2,183.7 507.6,184.0 508.1,184.0 508.6,184.2 509.0,183.7 509.5,184.0 509.9,184.1 510.4,184.2 510.8,183.9 511.3,183.6 511.7,183.8 512.2,183.7 512.7,184.0 513.1,183.9 513.6,184.1 514.0,183.9 514.5,183.7 514.9,183.7 515.4,183.6 515.8,183.6 516.3,183.8 516.8,184.0 517.2,184.2 517.7,184.0 518.1,183.8 518.6,184.0 519.0,183.8 519.5,183.7 519.9,183.5 520.4,183.8 520.9,183.9 521.3,184.0 521.8,183.7 522.2,183.7 522.7,183.5 523.1,183.6 523.6,183.4 524.0,183.9 524.5,184.0 525.0,184.1 525.4,184.0 525.9,183.7 526.3,184.0 526.8,183.7 527.2,183.9 527.7,183.7 528.1,183.6 528.6,183.2 529.1,182.9 529.5,182.0 530.0,181.1 530.4,180.1 530.9,178.7 531.3,176.7 531.8,174.3 532.2,171.9 532.7,170.1 533.2,168.4 533.6,167.3 534.1,166.8 534.5,167.4 535.0,168.7 535.4,169.7 535.9,170.5 536.3,171.4 536.8,172.6 537.3,174.1 537.7,175.0 538.2,175.9 538.6,177.3 539.1,178.4 539.5,179.4 540.0,180.1 540.4,180.7 540.9,181.1 541.4,181.1 541.8,181.4 542.3,182.4 542.7,182.8 543.2,183.0 543.6,182.8 544.1,182.9 544.5,182.5 545.0,182.6 545.5,182.8 545.9,183.3 546.4,183.3 546.8,183.3 547.3,183.3 547.7,183.2 548.2,183.1 548.6,183.3 549.1,183.5 549.6,183.5 550.0,183.4 550.5,183.2 550.9,183.2 551.4,183.3 551.8,183.4 552.3,183.2 552.7,182.8 553.2,182.9 553.7,183.1 554.1,183.5 554.6,183.7 555.0,183.7 555.5,183.6 555.9,183.3 556.4,183.4 556.8,183.4 557.3,183.5 557.8,183.5 558.2,183.4 558.7,183.3 559.1,183.3 559.6,183.7 560.0,183.8 560.5,183.7 560.9,183.1 561.4,183.0 561.9,183.2 562.3,183.7 562.8,183.7 563.2,183.6 563.7,183.6 564.1,183.6 564.6,183.6 565.0,183.3 565.5,183.6 566.0,183.6 566.2,183.9 566.4,183.5 566.6,183.5 566.9,183.5 567.1,183.5 567.3,183.3 567.6,183.2 567.8,183.1 568.0,183.4 568.2,183.3 568.5,183.5 568.7,183.7 568.9,183.5 569.1,183.7 569.4,183.4 569.6,183.7 569.8,183.6 570.1,183.8 570.3,183.8 570.5,183.9 570.7,183.9 571.0,183.5 571.2,183.6 571.4,183.6 571.7,183.9 571.9,183.6 572.1,183.4 572.3,183.2 572.6,183.2 572.8,183.4 573.0,183.5 573.2,183.3 573.5,183.1 573.7,183.1 573.9,183.5 574.2,183.3 574.4,183.0 574.6,182.6 574.8,182.8 575.1,182.9 575.3,183.0 575.5,183.0 575.8,182.9 576.0,182.7 576.2,182.7 576.4,182.5 576.7,182.1 576.9,181.8 577.1,181.4 577.3,181.6 577.6,181.2 577.8,180.8 578.0,180.3 578.3,180.0 578.5,179.4 578.7,178.7 578.9,177.7 579.2,177.0 579.4,175.9 579.6,175.1 579.9,174.2 580.1,173.1 580.3,171.7 580.5,169.9 580.8,168.3 581.0,166.4 581.2,164.4 581.4,161.9 581.7,159.3 581.9,156.6 582.1,153.8 582.4,150.6 582.6,147.2 582.8,143.5 583.0,139.6 583.3,135.4 583.5,130.4 583.7,125.5 584.0,120.3 584.2,115.3 584.4,109.5 584.6,103.4 584.9,97.3 585.1,91.2 585.3,84.8 585.5,78.5 585.8,71.9 586.0,66.1 586.2,60.6 586.5,56.9 586.7,60.0 586.9,64.3 587.1,69.2 587.4,74.0 587.6,78.6 587.8,83.6 588.1,88.2 588.3,93.0 588.5,97.2 588.7,101.8 589.0,106.2 589.2,110.6 589.4,114.8 589.6,119.0 589.9,122.7 590.1,126.0 590.3,129.1 590.6,132.3 590.8,135.8 591.0,138.6 591.2,141.5 591.5,143.9 591.7,146.5 591.9,148.9 592.2,151.1 592.4,153.1 592.6,154.9 592.8,156.7 593.1,158.4 593.3,160.1 593.5,161.6 593.7,163.0 594.0,164.2 594.2,165.6 594.4,166.8 594.7,168.0 594.9,168.9 595.1,169.6 595.3,170.1 595.6,171.1 595.8,171.8 596.0,173.0 596.3,173.5 596.5,174.2 596.7,174.7 596.9,175.3 597.2,175.7 597.4,175.8 597.6,175.9 597.8,176.4 598.1,176.4 598.3,176.8 598.5,177.1 598.8,177.4 599.0,177.6 599.2,177.7 599.4,178.0 599.7,178.3 599.9,178.4 600.1,178.7 600.4,179.1 600.6,179.2 600.8,179.4 601.0,179.5 601.3,179.9 601.5,179.9 601.7,180.0 601.9,180.0 602.2,180.1 602.4,180.2 602.6,180.5 602.9,180.6 603.1,180.6 603.3,180.3 603.5,180.2 603.8,180.4 604.0,180.5 604.2,180.5 604.5,180.7 604.7,180.6 604.9,180.7 605.1,180.6 605.4,180.6 605.6,180.8 605.8,181.1 606.0,181.3 606.3,181.4 606.5,181.3 606.7,181.5 607.0,181.4 607.2,181.4 607.4,181.6 607.6,181.8 607.9,181.8 608.1,181.8 608.3,182.0 608.6,182.2 608.8,182.2 609.0,182.1 609.2,181.9 609.5,181.6 609.7,181.5 609.9,181.5 610.1,181.7 610.4,181.7 610.6,181.9 610.8,182.0 611.1,182.2 611.3,182.2 611.5,182.4 612.0,182.6 612.4,182.6 612.9,182.8 613.3,182.7 613.8,182.7 614.2,182.5 614.7,182.6 615.2,182.5 615.6,182.6 616.1,182.7 616.5,183.1 617.0,183.4 617.4,183.8 617.9,183.3 618.3,183.2 618.8,182.9 619.3,182.9 619.7,182.7 620.2,182.6 620.6,182.5 621.1,182.3 621.5,182.2 622.0,182.4 622.5,182.7 622.9,183.0 623.4,183.2 623.8,183.3 624.3,183.5 624.7,183.0 625.2,182.8 625.6,182.5 626.1,182.7 626.6,182.3 627.0,181.9 627.5,181.3 627.9,180.8 628.4,180.1 628.8,179.3 629.3,178.2 629.7,176.9 630.2,176.0 630.7,175.3 631.1,175.4 631.6,175.8 632.0,176.6 632.5,177.1 632.9,177.9 633.4,178.3 633.8,178.6 634.3,178.8 634.8,179.1 635.2,180.0 635.7,180.8 636.1,181.5 636.6,181.9 637.0,181.9 637.5,181.8 637.9,182.1 638.4,182.5 638.9,183.0 639.3,183.1 639.8,183.3 640.2,183.3 640.7,183.3 641.1,183.1 641.6,183.3 642.0,183.4 642.5,183.8 643.0,183.4 643.4,183.6 643.9,183.4 644.3,183.6 644.8,183.6 645.2,183.7 645.7,183.9 646.1,183.5 646.6,183.3 647.1,183.0 647.5,183.0 648.0,183.0 648.4,183.0 648.9,183.3 649.3,183.1 649.8,183.1 650.2,183.1 650.7,183.3 651.2,183.4 651.6,183.2 652.1,183.5 652.5,183.6 653.0,183.9 653.4,183.6 653.9,183.9 654.3,183.7 654.8,183.8 655.3,183.5 655.7,183.7 656.2,183.8 656.6,183.9 657.1,184.1 657.5,184.0 658.0,183.9 658.4,183.7 658.9,183.5 659.4,183.5 659.8,183.1 660.3,183.1 660.7,183.2 661.2,183.7 661.6,183.9 662.1,183.7 662.5,183.7 663.0,183.7 663.5,183.4 663.9,183.3 664.4,183.3 664.8,183.6 665.3,183.6 665.7,183.3 666.2,183.2 666.6,183.0 667.1,183.7 667.6,183.7 668.0,183.7 668.5,182.9 668.9,183.0 669.4,183.4 669.8,183.6 670.3,183.7 670.7,183.8 671.2,184.0 671.7,183.7 672.1,183.2 672.6,183.0 673.0,183.3 673.5,183.1 673.9,183.4 674.4,183.3 674.8,183.9 675.3,183.5"/>
<polyline class="d" stroke="#4a56a8" points="447.5,183.0 448.0,183.4 448.4,183.5 448.9,183.6 449.3,183.4 449.8,183.5 450.2,183.6 450.7,183.6 451.1,183.4 451.6,183.5 452.1,183.5 452.5,183.5 453.0,183.6 453.4,183.8 453.9,183.7 454.3,183.9 454.8,183.8 455.2,183.9 455.7,183.7 456.2,183.7 456.6,183.7 457.1,183.5 457.5,183.2 458.0,182.8 458.4,183.2 458.9,183.3 459.3,183.5 459.8,183.3 460.3,183.6 460.7,183.6 461.2,183.4 461.6,183.2 462.1,183.3 462.5,183.6 463.0,183.7 463.4,183.6 463.9,183.2 464.4,183.3 464.8,183.4 465.3,183.7 465.7,183.7 466.2,183.6 466.6,183.5 467.1,183.6 467.5,183.8 468.0,183.7 468.5,183.4 468.9,183.2 469.4,183.4 469.8,183.5 470.3,183.5 470.7,183.5 471.2,183.7 471.6,183.7 472.1,183.5 472.6,183.5 473.0,183.3 473.5,183.3 473.9,183.1 474.4,183.0 474.8,182.6 475.3,181.5 475.7,179.9 476.2,177.9 476.7,175.3 477.1,171.7 477.6,167.7 478.0,164.1 478.5,161.8 478.9,160.7 479.4,161.6 479.8,162.8 480.3,165.1 480.8,167.1 481.2,169.6 481.7,172.2 482.1,174.5 482.6,176.7 483.0,178.1 483.5,179.4 483.9,180.3 484.4,181.0 484.9,181.2 485.3,181.0 485.8,180.9 486.2,181.1 486.7,180.8 487.1,180.5 487.6,180.1 488.0,180.7 488.5,181.0 489.0,181.1 489.4,181.2 489.9,181.1 490.3,181.3 490.8,181.3 491.2,181.9 491.7,182.3 492.1,182.7 492.6,182.7 493.1,182.8 493.5,182.8 494.0,183.0 494.4,183.0 494.9,182.8 495.3,183.0 495.8,183.2 496.2,183.5 496.7,183.3 497.2,183.2 497.6,183.2 498.1,183.5 498.5,183.4 499.0,183.4 499.4,183.4 499.9,183.5 500.3,183.4 500.8,183.1 501.3,183.0 501.7,183.0 502.2,183.2 502.6,183.4 503.1,183.4 503.5,183.5 504.0,183.5 504.4,183.9 504.9,183.8 505.4,183.9 505.8,183.8 506.3,183.6 506.7,183.6 507.2,183.5 507.6,183.6 508.1,183.6 508.6,183.3 509.0,183.4 509.5,183.2 509.9,183.7 510.4,183.7 510.8,183.7 511.3,183.6 511.7,183.6 512.2,183.5 512.7,183.2 513.1,183.2 513.6,183.2 514.0,183.5 514.5,183.1 514.9,182.8 515.4,182.7 515.8,183.0 516.3,183.3 516.8,183.4 517.2,183.5 517.7,183.4 518.1,183.5 518.6,183.6 519.0,183.6 519.5,183.4 519.9,183.6 520.4,183.7 520.9,183.5 521.3,183.3 521.8,183.3 522.2,183.7 522.7,183.5 523.1,183.7 523.6,183.6 524.0,183.8 524.5,183.3 525.0,183.2 525.4,183.3 525.9,183.6 526.3,183.5 526.8,183.0 527.2,183.2 527.7,183.5 528.1,183.7 528.6,183.3 529.1,182.7 529.5,182.1 530.0,181.7 530.4,181.0 530.9,179.8 531.3,177.6 531.8,175.0 532.2,172.2 532.7,169.3 533.2,165.7 533.6,162.0 534.1,158.2 534.5,155.8 535.0,154.0 535.4,154.0 535.9,154.7 536.3,156.2 536.8,157.6 537.3,159.4 537.7,161.4 538.2,163.6 538.6,165.7 539.1,167.8 539.5,169.9 540.0,171.9 540.4,173.6 540.9,175.1 541.4,176.4 541.8,177.8 542.3,178.8 542.7,179.5 543.2,180.3 543.6,180.6 544.1,180.8 544.5,180.8 545.0,181.3 545.5,182.0 545.9,182.4 546.4,182.4 546.8,182.2 547.3,182.2 547.7,182.3 548.2,182.3 548.6,182.5 549.1,182.3 549.6,182.4 550.0,182.6 550.5,182.8 550.9,183.0 551.4,183.0 551.8,183.4 552.3,183.6 552.7,183.4 553.2,183.2 553.7,182.9 554.1,183.2 554.6,183.2 555.0,183.3 555.5,183.4 555.9,183.6 556.4,183.5 556.8,183.3 557.3,183.2 557.8,183.3 558.2,183.2 558.7,182.8 559.1,182.9 559.6,182.9 560.0,182.9 560.5,182.8 560.9,182.6 561.4,183.4 561.9,183.2 562.3,183.4 562.8,183.3 563.2,183.4 563.7,183.3 564.1,182.8 564.6,182.7 565.0,182.9 565.5,183.2 566.0,183.5 566.2,183.5 566.4,183.3 566.6,183.3 566.9,183.3 567.1,183.2 567.3,183.1 567.6,182.7 567.8,182.5 568.0,182.8 568.2,183.2 568.5,183.7 568.7,183.7 568.9,183.6 569.1,183.5 569.4,183.5 569.6,183.6 569.8,183.3 570.1,183.2 570.3,183.2 570.5,183.2 570.7,183.1 571.0,182.9 571.2,182.9 571.4,183.1 571.7,183.2 571.9,183.4 572.1,183.0 572.3,182.9 572.6,183.0 572.8,182.9 573.0,183.1 573.2,182.8 573.5,182.9 573.7,182.8 573.9,183.1 574.2,183.1 574.4,182.8 574.6,182.7 574.8,182.4 575.1,182.5 575.3,182.2 575.5,182.1 575.8,182.0 576.0,181.7 576.2,181.6 576.4,181.4 576.7,181.2 576.9,180.7 577.1,179.7 577.3,179.2 577.6,178.3 577.8,177.6 578.0,176.7 578.3,175.9 578.5,175.2 578.7,174.4 578.9,173.4 579.2,172.1 579.4,170.5 579.6,169.1 579.9,167.8 580.1,165.9 580.3,163.7 580.5,161.4 580.8,159.0 581.0,156.2 581.2,153.0 581.4,149.6 581.7,146.1 581.9,142.4 582.1,138.5 582.4,134.1 582.6,128.9 582.8,123.6 583.0,118.6 583.3,113.1 583.5,107.2 583.7,100.5 584.0,93.9 584.2,87.6 584.4,81.2 584.6,75.0 584.9,68.4 585.1,62.5 585.3,56.9 585.5,53.4 585.8,56.3 586.0,61.0 586.2,65.8 586.5,70.5 586.7,75.3 586.9,80.1 587.1,85.2 587.4,89.7 587.6,94.4 587.8,99.0 588.1,103.8 588.3,108.2 588.5,112.5 588.7,116.4 589.0,120.3 589.2,123.8 589.4,127.7 589.6,130.9 589.9,134.3 590.1,136.9 590.3,139.9 590.6,142.4 590.8,144.9 591.0,147.4 591.2,149.8 591.5,152.1 591.7,154.0 591.9,156.1 592.2,157.8 592.4,159.5 592.6,160.9 592.8,162.3 593.1,163.8 593.3,164.7 593.5,165.8 593.7,166.3 594.0,167.6 594.2,168.8 594.4,169.9 594.7,170.8 594.9,171.3 595.1,172.2 595.3,172.6 595.6,173.2 595.8,173.6 596.0,173.8 596.3,174.2 596.5,174.9 596.7,175.4 596.9,176.1 597.2,176.3 597.4,176.9 597.6,177.2 597.8,177.3 598.1,177.4 598.3,177.7 598.5,178.2 598.8,178.4 599.0,178.3 599.2,178.6 599.4,178.9 599.7,179.2 599.9,179.4 600.1,179.4 600.4,179.5 600.6,179.4 600.8,179.5 601.0,179.9 601.3,180.2 601.5,180.3 601.7,180.3 601.9,180.1 602.2,179.9 602.4,180.1 602.6,180.5 602.9,180.6 603.1,180.9 603.3,181.0 603.5,181.2 603.8,181.1 604.0,181.3 604.2,181.3 604.5,181.4 604.7,181.5 604.9,181.7 605.1,181.5 605.4,181.6 605.6,181.4 605.8,181.5 606.0,181.3 606.3,181.6 606.5,181.7 606.7,181.9 607.0,181.7 607.2,181.6 607.4,181.5 607.6,181.6 607.9,181.7 608.1,181.7 608.3,181.8 608.6,181.9 608.8,181.9 609.0,182.2 609.2,182.0 609.5,182.3 609.7,182.0 609.9,181.9 610.1,181.7 610.4,181.9 610.6,182.1 610.8,182.3 611.1,182.4 611.3,182.6 611.5,182.6 612.0,182.4 612.4,182.5 612.9,182.6 613.3,182.6 613.8,182.4 614.2,182.5 614.7,182.5 615.2,182.7 615.6,182.5 616.1,182.4 616.5,182.6 617.0,182.7 617.4,182.9 617.9,182.6 618.3,182.8 618.8,182.9 619.3,183.2 619.7,183.0 620.2,182.9 620.6,182.8 621.1,183.0 621.5,183.2 622.0,183.1 622.5,183.0 622.9,182.9 623.4,182.9 623.8,183.1 624.3,183.4 624.7,183.3 625.2,182.7 625.6,182.4 626.1,182.4 626.6,182.3 627.0,181.6 627.5,181.1 627.9,180.6 628.4,180.3 628.8,180.0 629.3,179.7 629.7,179.5 630.2,179.1 630.7,178.9 631.1,178.7 631.6,178.9 632.0,179.0 632.5,179.5 632.9,179.5 633.4,180.4 633.8,180.6 634.3,180.9 634.8,180.8 635.2,181.0 635.7,181.6 636.1,181.6 636.6,181.8 637.0,181.8 637.5,182.2 637.9,182.4 638.4,182.3 638.9,182.5 639.3,182.9 639.8,183.2 640.2,183.1 640.7,182.9 641.1,182.9 641.6,183.1 642.0,183.2 642.5,183.0 643.0,183.4 643.4,183.5 643.9,183.5 644.3,183.3 644.8,183.1 645.2,182.9 645.7,183.0 646.1,183.0 646.6,183.4 647.1,183.4 647.5,183.5 648.0,183.6 648.4,183.8 648.9,183.6 649.3,183.4 649.8,182.9 650.2,183.1 650.7,183.1 651.2,183.1 651.6,183.1 652.1,183.3 652.5,183.2 653.0,183.4 653.4,183.2 653.9,183.0 654.3,182.9 654.8,182.6 655.3,183.1 655.7,183.0 656.2,183.3 656.6,183.1 657.1,183.4 657.5,183.5 658.0,183.5 658.4,183.6 658.9,183.6 659.4,183.6 659.8,183.4 660.3,183.4 660.7,183.7 661.2,183.6 661.6,183.5 662.1,183.3 662.5,183.4 663.0,183.0 663.5,183.1 663.9,183.4 664.4,183.7 664.8,183.6 665.3,183.3 665.7,183.5 666.2,183.4 666.6,183.4 667.1,183.2 667.6,183.6 668.0,183.5 668.5,183.5 668.9,183.0 669.4,183.2 669.8,183.4 670.3,183.6 670.7,183.6 671.2,183.4 671.7,183.6 672.1,183.4 672.6,183.5 673.0,183.4 673.5,183.4 673.9,183.5 674.4,183.5 674.8,183.5 675.3,183.4"/>
</g>
<g>
<path class="iax" d="M447.5,7.9 V191.2"/>
<path class="iax" d="M447.5,191.2 H675.3"/>
<path class="iax" d="M444.2,191.2 H447.5"/>
<text class="il" x="440.9" y="193.4" text-anchor="end">0</text>
<path class="iax" d="M444.2,154.5 H447.5"/>
<text class="il" x="440.9" y="156.7" text-anchor="end">5000</text>
<path class="iax" d="M444.2,117.9 H447.5"/>
<text class="il" x="440.9" y="120.1" text-anchor="end">10000</text>
<path class="iax" d="M444.2,81.2 H447.5"/>
<text class="il" x="440.9" y="83.4" text-anchor="end">15000</text>
<path class="iax" d="M444.2,44.6 H447.5"/>
<text class="il" x="440.9" y="46.8" text-anchor="end">20000</text>
<path class="iax" d="M444.2,7.9 H447.5"/>
<text class="il" x="440.9" y="10.1" text-anchor="end">25000</text>
<path class="iax" d="M445.8,172.9 H447.5"/>
<path class="iax" d="M445.8,136.2 H447.5"/>
<path class="iax" d="M445.8,99.5 H447.5"/>
<path class="iax" d="M445.8,62.9 H447.5"/>
<path class="iax" d="M445.8,26.2 H447.5"/>
<path class="iax" d="M447.5,191.2 V194.5"/>
<text class="il" x="447.7" y="202.9" text-anchor="middle">700</text>
<path class="iax" d="M493.1,191.2 V194.5"/>
<text class="il" x="493.3" y="202.9" text-anchor="middle">800</text>
<path class="iax" d="M538.6,191.2 V194.5"/>
<text class="il" x="538.8" y="202.9" text-anchor="middle">900</text>
<path class="iax" d="M584.2,191.2 V194.5"/>
<text class="il" x="584.4" y="202.9" text-anchor="middle">1000</text>
<path class="iax" d="M629.7,191.2 V194.5"/>
<text class="il" x="629.9" y="202.9" text-anchor="middle">1100</text>
<path class="iax" d="M675.3,191.2 V194.5"/>
<text class="il" x="675.5" y="202.9" text-anchor="middle">1200</text>
<path class="iax" d="M470.3,191.2 V193"/>
<path class="iax" d="M515.8,191.2 V193"/>
<path class="iax" d="M561.4,191.2 V193"/>
<path class="iax" d="M607.0,191.2 V193"/>
<path class="iax" d="M652.5,191.2 V193"/>
</g>
<text class="il" style="font-size:9.6px;letter-spacing:0" transform="translate(409.1,94.4) rotate(-90)" text-anchor="middle">Intensity (cps)</text>
<text class="il" style="font-size:9.6px;letter-spacing:0" x="561.4" y="217.6" text-anchor="middle">Time (s)</text>
<g>
<rect x="433.1" y="228.7" width="111.5" height="99.7" fill="#fff" stroke="#4a4a4a" stroke-width="1.3"/>
<path d="M435.5,239.3 H470.7" stroke="#7c7c7c" stroke-width="1.5"/>
<text class="lg" x="474.8" y="244.8">Sample 1</text>
<path d="M435.5,258.9 H470.7" stroke="#bc8c98" stroke-width="1.5"/>
<text class="lg" x="474.8" y="264.4">Sample 2</text>
<path d="M435.5,278.4 H470.7" stroke="#8494bc" stroke-width="1.5"/>
<text class="lg" x="474.8" y="283.9">Sample 3</text>
<path d="M435.5,298.0 H470.7" stroke="#88bea8" stroke-width="1.5"/>
<text class="lg" x="474.8" y="303.5">Sample 4</text>
<path d="M435.5,317.6 H470.7" stroke="#cdbdd2" stroke-width="1.5"/>
<text class="lg" x="474.8" y="323.1">Standard</text>
</g>
</svg>
</body></html>
